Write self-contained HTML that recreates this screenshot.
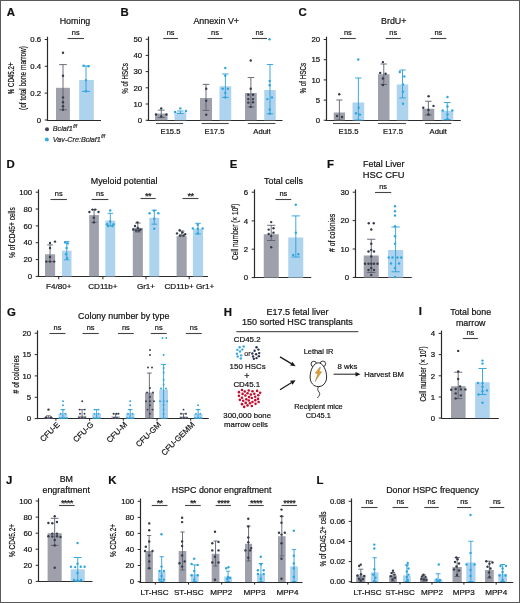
<!DOCTYPE html>
<html><head><meta charset="utf-8"><style>
html,body{margin:0;padding:0;background:#fff;width:520px;height:603px;overflow:hidden}
svg{display:block;font-family:"Liberation Sans", sans-serif;filter:blur(0.25px)}
</style></head><body>
<svg width="520" height="603" viewBox="0 0 520 603" font-family='"Liberation Sans", sans-serif'><style>text{stroke:#111;stroke-width:0.2px}</style>
<rect x="0.00" y="0.00" width="520.00" height="603.00" fill="#fff"/>
<text x="6.80" y="16.20" font-size="11.4" text-anchor="start" font-weight="bold" font-style="normal" fill="#111" >A</text>
<text x="75.00" y="23.90" font-size="8.9" text-anchor="middle" font-weight="normal" font-style="normal" fill="#111" >Homing</text>
<line x1="47.50" y1="36.70" x2="47.50" y2="120.50" stroke="#2a2a2a" stroke-width="1.2" />
<line x1="44.70" y1="39.50" x2="47.50" y2="39.50" stroke="#2a2a2a" stroke-width="1.0" />
<text x="41.20" y="42.20" font-size="7.8" text-anchor="end" font-weight="normal" font-style="normal" fill="#111" >0.6</text>
<line x1="44.70" y1="66.30" x2="47.50" y2="66.30" stroke="#2a2a2a" stroke-width="1.0" />
<text x="41.20" y="69.00" font-size="7.8" text-anchor="end" font-weight="normal" font-style="normal" fill="#111" >0.4</text>
<line x1="44.70" y1="93.10" x2="47.50" y2="93.10" stroke="#2a2a2a" stroke-width="1.0" />
<text x="41.20" y="95.80" font-size="7.8" text-anchor="end" font-weight="normal" font-style="normal" fill="#111" >0.2</text>
<line x1="44.70" y1="120.00" x2="47.50" y2="120.00" stroke="#2a2a2a" stroke-width="1.0" />
<text x="41.20" y="122.70" font-size="7.8" text-anchor="end" font-weight="normal" font-style="normal" fill="#111" >0</text>
<line x1="46.90" y1="120.50" x2="101.00" y2="120.50" stroke="#2a2a2a" stroke-width="1.2" />
<rect x="56.00" y="87.80" width="13.90" height="32.20" fill="#9ea0ab"/>
<line x1="63.00" y1="64.60" x2="63.00" y2="109.80" stroke="#5c616c" stroke-width="0.9" />
<line x1="59.18" y1="64.60" x2="66.82" y2="64.60" stroke="#5c616c" stroke-width="0.9" />
<line x1="59.18" y1="109.80" x2="66.82" y2="109.80" stroke="#5c616c" stroke-width="0.9" />
<circle cx="63.00" cy="52.70" r="1.2" fill="#353b48"/>
<circle cx="63.00" cy="75.80" r="1.2" fill="#353b48"/>
<circle cx="63.00" cy="97.40" r="1.2" fill="#353b48"/>
<circle cx="63.00" cy="102.30" r="1.2" fill="#353b48"/>
<circle cx="63.00" cy="106.30" r="1.2" fill="#353b48"/>
<circle cx="63.00" cy="109.80" r="1.2" fill="#353b48"/>
<rect x="79.20" y="80.00" width="14.60" height="40.00" fill="#aed3ef"/>
<line x1="86.00" y1="66.00" x2="86.00" y2="91.40" stroke="#2a9fd8" stroke-width="0.9" />
<line x1="81.98" y1="66.00" x2="90.02" y2="66.00" stroke="#2a9fd8" stroke-width="0.9" />
<line x1="81.98" y1="91.40" x2="90.02" y2="91.40" stroke="#2a9fd8" stroke-width="0.9" />
<circle cx="83.80" cy="65.60" r="1.2" fill="#2ea6dd"/>
<circle cx="88.50" cy="66.20" r="1.2" fill="#2ea6dd"/>
<circle cx="86.00" cy="80.10" r="1.2" fill="#2ea6dd"/>
<circle cx="86.00" cy="91.20" r="1.2" fill="#2ea6dd"/>
<line x1="67.50" y1="38.50" x2="84.00" y2="38.50" stroke="#444" stroke-width="1.1" />
<text x="75.75" y="35.40" font-size="7.4" text-anchor="middle" font-weight="normal" font-style="normal" fill="#111" >ns</text>
<g transform="translate(13.90,78.40) rotate(-90)"><text x="0" y="0" font-size="8.6" text-anchor="middle" textLength="31.80" lengthAdjust="spacingAndGlyphs" fill="#111" stroke="#111" stroke-width="0.22">% CD45.2+</text></g>
<g transform="translate(25.70,78.00) rotate(-90)"><text x="0" y="0" font-size="8.4" text-anchor="middle" textLength="64.00" lengthAdjust="spacingAndGlyphs" fill="#111" stroke="#111" stroke-width="0.22">(of total bone marrow)</text></g>
<circle cx="47.00" cy="129.20" r="2.0" fill="#3d4350"/>
<text x="52.80" y="131.30" font-size="7.2" text-anchor="start" font-weight="normal" font-style="italic" fill="#3a3a3a" >Bclaf1<tspan font-size="4.6" dy="-3.2" dx="0.4">f/f</tspan></text>
<circle cx="46.80" cy="139.60" r="2.0" fill="#34aee0"/>
<text x="52.80" y="141.60" font-size="7.2" text-anchor="start" font-weight="normal" font-style="italic" fill="#3a3a3a" >Vav-Cre:Bclaf1<tspan font-size="4.6" dy="-3.2" dx="0.4">f/f</tspan></text>
<text x="120.50" y="16.20" font-size="11.4" text-anchor="start" font-weight="bold" font-style="normal" fill="#111" >B</text>
<text x="216.20" y="23.90" font-size="8.9" text-anchor="middle" font-weight="normal" font-style="normal" fill="#111" >Annexin V+</text>
<line x1="148.50" y1="36.45" x2="148.50" y2="120.75" stroke="#2a2a2a" stroke-width="1.2" />
<line x1="145.70" y1="39.25" x2="148.50" y2="39.25" stroke="#2a2a2a" stroke-width="1.0" />
<text x="142.20" y="41.95" font-size="7.8" text-anchor="end" font-weight="normal" font-style="normal" fill="#111" >50</text>
<line x1="145.70" y1="55.40" x2="148.50" y2="55.40" stroke="#2a2a2a" stroke-width="1.0" />
<text x="142.20" y="58.10" font-size="7.8" text-anchor="end" font-weight="normal" font-style="normal" fill="#111" >40</text>
<line x1="145.70" y1="71.60" x2="148.50" y2="71.60" stroke="#2a2a2a" stroke-width="1.0" />
<text x="142.20" y="74.30" font-size="7.8" text-anchor="end" font-weight="normal" font-style="normal" fill="#111" >30</text>
<line x1="145.70" y1="87.80" x2="148.50" y2="87.80" stroke="#2a2a2a" stroke-width="1.0" />
<text x="142.20" y="90.50" font-size="7.8" text-anchor="end" font-weight="normal" font-style="normal" fill="#111" >20</text>
<line x1="145.70" y1="104.00" x2="148.50" y2="104.00" stroke="#2a2a2a" stroke-width="1.0" />
<text x="142.20" y="106.70" font-size="7.8" text-anchor="end" font-weight="normal" font-style="normal" fill="#111" >10</text>
<line x1="145.70" y1="120.25" x2="148.50" y2="120.25" stroke="#2a2a2a" stroke-width="1.0" />
<text x="142.20" y="122.95" font-size="7.8" text-anchor="end" font-weight="normal" font-style="normal" fill="#111" >0</text>
<line x1="147.40" y1="120.50" x2="282.50" y2="120.50" stroke="#2a2a2a" stroke-width="1.2" />
<rect x="155.00" y="113.60" width="12.50" height="6.65" fill="#9ea0ab"/>
<line x1="161.25" y1="110.10" x2="161.25" y2="117.50" stroke="#5c616c" stroke-width="0.9" />
<line x1="157.81" y1="110.10" x2="164.69" y2="110.10" stroke="#5c616c" stroke-width="0.9" />
<line x1="157.81" y1="117.50" x2="164.69" y2="117.50" stroke="#5c616c" stroke-width="0.9" />
<circle cx="161.20" cy="108.40" r="1.2" fill="#353b48"/>
<circle cx="156.00" cy="114.50" r="1.2" fill="#353b48"/>
<circle cx="166.40" cy="114.50" r="1.2" fill="#353b48"/>
<circle cx="161.20" cy="116.50" r="1.2" fill="#353b48"/>
<rect x="174.50" y="112.30" width="11.75" height="7.95" fill="#aed3ef"/>
<line x1="180.38" y1="111.00" x2="180.38" y2="113.50" stroke="#2a9fd8" stroke-width="0.9" />
<line x1="177.14" y1="111.00" x2="183.61" y2="111.00" stroke="#2a9fd8" stroke-width="0.9" />
<line x1="177.14" y1="113.50" x2="183.61" y2="113.50" stroke="#2a9fd8" stroke-width="0.9" />
<circle cx="180.30" cy="108.40" r="1.2" fill="#2ea6dd"/>
<circle cx="175.10" cy="111.90" r="1.2" fill="#2ea6dd"/>
<circle cx="185.90" cy="111.00" r="1.2" fill="#2ea6dd"/>
<rect x="200.00" y="98.00" width="12.00" height="22.25" fill="#9ea0ab"/>
<line x1="206.00" y1="84.40" x2="206.00" y2="110.40" stroke="#5c616c" stroke-width="0.9" />
<line x1="202.70" y1="84.40" x2="209.30" y2="84.40" stroke="#5c616c" stroke-width="0.9" />
<line x1="202.70" y1="110.40" x2="209.30" y2="110.40" stroke="#5c616c" stroke-width="0.9" />
<circle cx="206.20" cy="88.70" r="1.2" fill="#353b48"/>
<circle cx="206.20" cy="100.80" r="1.2" fill="#353b48"/>
<circle cx="206.20" cy="114.70" r="1.2" fill="#353b48"/>
<rect x="219.50" y="86.25" width="11.75" height="34.00" fill="#aed3ef"/>
<line x1="225.38" y1="74.00" x2="225.38" y2="97.40" stroke="#2a9fd8" stroke-width="0.9" />
<line x1="222.14" y1="74.00" x2="228.61" y2="74.00" stroke="#2a9fd8" stroke-width="0.9" />
<line x1="222.14" y1="97.40" x2="228.61" y2="97.40" stroke="#2a9fd8" stroke-width="0.9" />
<circle cx="225.30" cy="68.00" r="1.2" fill="#2ea6dd"/>
<circle cx="225.30" cy="75.80" r="1.2" fill="#2ea6dd"/>
<circle cx="222.70" cy="88.70" r="1.2" fill="#2ea6dd"/>
<circle cx="227.90" cy="88.70" r="1.2" fill="#2ea6dd"/>
<circle cx="225.30" cy="93.00" r="1.2" fill="#2ea6dd"/>
<circle cx="225.30" cy="97.40" r="1.2" fill="#2ea6dd"/>
<rect x="245.00" y="93.00" width="11.75" height="27.25" fill="#9ea0ab"/>
<line x1="250.88" y1="77.50" x2="250.88" y2="106.90" stroke="#5c616c" stroke-width="0.9" />
<line x1="247.64" y1="77.50" x2="254.11" y2="77.50" stroke="#5c616c" stroke-width="0.9" />
<line x1="247.64" y1="106.90" x2="254.11" y2="106.90" stroke="#5c616c" stroke-width="0.9" />
<circle cx="250.75" cy="60.50" r="1.2" fill="#353b48"/>
<circle cx="250.70" cy="88.70" r="1.2" fill="#353b48"/>
<circle cx="248.30" cy="94.80" r="1.2" fill="#353b48"/>
<circle cx="253.00" cy="94.80" r="1.2" fill="#353b48"/>
<circle cx="248.30" cy="99.10" r="1.2" fill="#353b48"/>
<circle cx="253.00" cy="99.10" r="1.2" fill="#353b48"/>
<circle cx="248.30" cy="102.60" r="1.2" fill="#353b48"/>
<circle cx="253.00" cy="102.20" r="1.2" fill="#353b48"/>
<circle cx="250.70" cy="106.90" r="1.2" fill="#353b48"/>
<rect x="264.25" y="90.00" width="11.50" height="30.25" fill="#aed3ef"/>
<line x1="270.00" y1="64.50" x2="270.00" y2="113.80" stroke="#2a9fd8" stroke-width="0.9" />
<line x1="266.84" y1="64.50" x2="273.16" y2="64.50" stroke="#2a9fd8" stroke-width="0.9" />
<line x1="266.84" y1="113.80" x2="273.16" y2="113.80" stroke="#2a9fd8" stroke-width="0.9" />
<circle cx="269.50" cy="39.25" r="1.2" fill="#2ea6dd"/>
<circle cx="269.70" cy="81.00" r="1.2" fill="#2ea6dd"/>
<circle cx="269.70" cy="85.30" r="1.2" fill="#2ea6dd"/>
<circle cx="267.30" cy="99.10" r="1.2" fill="#2ea6dd"/>
<circle cx="272.00" cy="97.40" r="1.2" fill="#2ea6dd"/>
<circle cx="269.70" cy="109.50" r="1.2" fill="#2ea6dd"/>
<circle cx="269.70" cy="113.80" r="1.2" fill="#2ea6dd"/>
<line x1="163.25" y1="38.50" x2="178.00" y2="38.50" stroke="#444" stroke-width="1.1" />
<text x="170.62" y="35.40" font-size="7.4" text-anchor="middle" font-weight="normal" font-style="normal" fill="#111" >ns</text>
<line x1="207.50" y1="38.50" x2="222.50" y2="38.50" stroke="#444" stroke-width="1.1" />
<text x="215.00" y="35.40" font-size="7.4" text-anchor="middle" font-weight="normal" font-style="normal" fill="#111" >ns</text>
<line x1="252.00" y1="38.50" x2="267.00" y2="38.50" stroke="#444" stroke-width="1.1" />
<text x="259.50" y="35.40" font-size="7.4" text-anchor="middle" font-weight="normal" font-style="normal" fill="#111" >ns</text>
<line x1="156.00" y1="123.50" x2="183.20" y2="123.50" stroke="#4a4a4a" stroke-width="1.1" />
<line x1="201.60" y1="123.50" x2="228.70" y2="123.50" stroke="#4a4a4a" stroke-width="1.1" />
<line x1="247.80" y1="123.50" x2="275.40" y2="123.50" stroke="#4a4a4a" stroke-width="1.1" />
<text x="170.50" y="134.00" font-size="7.6" text-anchor="middle" font-weight="normal" font-style="normal" fill="#111" >E15.5</text>
<text x="214.50" y="134.00" font-size="7.6" text-anchor="middle" font-weight="normal" font-style="normal" fill="#111" >E17.5</text>
<text x="262.00" y="134.00" font-size="7.6" text-anchor="middle" font-weight="normal" font-style="normal" fill="#111" >Adult</text>
<g transform="translate(128.20,78.50) rotate(-90)"><text x="0" y="0" font-size="8.6" text-anchor="middle" textLength="30.60" lengthAdjust="spacingAndGlyphs" fill="#111" stroke="#111" stroke-width="0.22">% of HSCs</text></g>
<text x="298.50" y="16.20" font-size="11.4" text-anchor="start" font-weight="bold" font-style="normal" fill="#111" >C</text>
<text x="393.75" y="23.90" font-size="8.9" text-anchor="middle" font-weight="normal" font-style="normal" fill="#111" >BrdU+</text>
<line x1="326.50" y1="36.70" x2="326.50" y2="120.75" stroke="#2a2a2a" stroke-width="1.2" />
<line x1="323.70" y1="39.50" x2="326.50" y2="39.50" stroke="#2a2a2a" stroke-width="1.0" />
<text x="320.20" y="42.20" font-size="7.8" text-anchor="end" font-weight="normal" font-style="normal" fill="#111" >20</text>
<line x1="323.70" y1="59.70" x2="326.50" y2="59.70" stroke="#2a2a2a" stroke-width="1.0" />
<text x="320.20" y="62.40" font-size="7.8" text-anchor="end" font-weight="normal" font-style="normal" fill="#111" >15</text>
<line x1="323.70" y1="79.90" x2="326.50" y2="79.90" stroke="#2a2a2a" stroke-width="1.0" />
<text x="320.20" y="82.60" font-size="7.8" text-anchor="end" font-weight="normal" font-style="normal" fill="#111" >10</text>
<line x1="323.70" y1="100.10" x2="326.50" y2="100.10" stroke="#2a2a2a" stroke-width="1.0" />
<text x="320.20" y="102.80" font-size="7.8" text-anchor="end" font-weight="normal" font-style="normal" fill="#111" >5</text>
<line x1="323.70" y1="120.25" x2="326.50" y2="120.25" stroke="#2a2a2a" stroke-width="1.0" />
<text x="320.20" y="122.95" font-size="7.8" text-anchor="end" font-weight="normal" font-style="normal" fill="#111" >0</text>
<line x1="325.65" y1="120.50" x2="460.75" y2="120.50" stroke="#2a2a2a" stroke-width="1.2" />
<rect x="333.75" y="112.50" width="11.25" height="7.75" fill="#9ea0ab"/>
<line x1="339.38" y1="100.00" x2="339.38" y2="120.00" stroke="#5c616c" stroke-width="0.9" />
<line x1="336.28" y1="100.00" x2="342.47" y2="100.00" stroke="#5c616c" stroke-width="0.9" />
<line x1="336.28" y1="120.00" x2="342.47" y2="120.00" stroke="#5c616c" stroke-width="0.9" />
<circle cx="339.25" cy="94.25" r="1.2" fill="#353b48"/>
<circle cx="337.00" cy="116.00" r="1.2" fill="#353b48"/>
<circle cx="342.00" cy="117.00" r="1.2" fill="#353b48"/>
<rect x="352.50" y="102.50" width="11.75" height="17.75" fill="#aed3ef"/>
<line x1="358.38" y1="78.00" x2="358.38" y2="120.00" stroke="#2a9fd8" stroke-width="0.9" />
<line x1="355.14" y1="78.00" x2="361.61" y2="78.00" stroke="#2a9fd8" stroke-width="0.9" />
<line x1="355.14" y1="120.00" x2="361.61" y2="120.00" stroke="#2a9fd8" stroke-width="0.9" />
<circle cx="358.25" cy="59.50" r="1.2" fill="#2ea6dd"/>
<circle cx="358.70" cy="107.80" r="1.2" fill="#2ea6dd"/>
<circle cx="356.00" cy="113.20" r="1.2" fill="#2ea6dd"/>
<circle cx="360.00" cy="114.60" r="1.2" fill="#2ea6dd"/>
<rect x="378.00" y="74.25" width="11.50" height="46.00" fill="#9ea0ab"/>
<line x1="383.75" y1="64.00" x2="383.75" y2="84.50" stroke="#5c616c" stroke-width="0.9" />
<line x1="380.59" y1="64.00" x2="386.91" y2="64.00" stroke="#5c616c" stroke-width="0.9" />
<line x1="380.59" y1="84.50" x2="386.91" y2="84.50" stroke="#5c616c" stroke-width="0.9" />
<circle cx="382.90" cy="62.10" r="1.2" fill="#353b48"/>
<circle cx="380.20" cy="72.90" r="1.2" fill="#353b48"/>
<circle cx="385.60" cy="73.70" r="1.2" fill="#353b48"/>
<circle cx="382.90" cy="78.50" r="1.2" fill="#353b48"/>
<circle cx="382.90" cy="85.00" r="1.2" fill="#353b48"/>
<rect x="396.75" y="84.50" width="11.50" height="35.75" fill="#aed3ef"/>
<line x1="402.50" y1="70.00" x2="402.50" y2="97.90" stroke="#2a9fd8" stroke-width="0.9" />
<line x1="399.34" y1="70.00" x2="405.66" y2="70.00" stroke="#2a9fd8" stroke-width="0.9" />
<line x1="399.34" y1="97.90" x2="405.66" y2="97.90" stroke="#2a9fd8" stroke-width="0.9" />
<circle cx="399.80" cy="72.00" r="1.2" fill="#2ea6dd"/>
<circle cx="404.40" cy="76.40" r="1.2" fill="#2ea6dd"/>
<circle cx="403.00" cy="84.50" r="1.2" fill="#2ea6dd"/>
<circle cx="403.00" cy="91.70" r="1.2" fill="#2ea6dd"/>
<circle cx="403.00" cy="103.80" r="1.2" fill="#2ea6dd"/>
<rect x="422.50" y="108.75" width="11.75" height="11.50" fill="#9ea0ab"/>
<line x1="428.38" y1="101.25" x2="428.38" y2="115.00" stroke="#5c616c" stroke-width="0.9" />
<line x1="425.14" y1="101.25" x2="431.61" y2="101.25" stroke="#5c616c" stroke-width="0.9" />
<line x1="425.14" y1="115.00" x2="431.61" y2="115.00" stroke="#5c616c" stroke-width="0.9" />
<circle cx="428.60" cy="96.20" r="1.2" fill="#353b48"/>
<circle cx="423.30" cy="107.80" r="1.2" fill="#353b48"/>
<circle cx="433.50" cy="105.90" r="1.2" fill="#353b48"/>
<circle cx="428.40" cy="110.00" r="1.2" fill="#353b48"/>
<circle cx="428.40" cy="114.50" r="1.2" fill="#353b48"/>
<rect x="441.25" y="110.75" width="12.00" height="9.50" fill="#aed3ef"/>
<line x1="447.25" y1="102.50" x2="447.25" y2="119.50" stroke="#2a9fd8" stroke-width="0.9" />
<line x1="443.95" y1="102.50" x2="450.55" y2="102.50" stroke="#2a9fd8" stroke-width="0.9" />
<line x1="443.95" y1="119.50" x2="450.55" y2="119.50" stroke="#2a9fd8" stroke-width="0.9" />
<circle cx="447.50" cy="97.00" r="1.2" fill="#2ea6dd"/>
<circle cx="442.70" cy="110.50" r="1.2" fill="#2ea6dd"/>
<circle cx="452.30" cy="110.50" r="1.2" fill="#2ea6dd"/>
<circle cx="447.50" cy="106.50" r="1.2" fill="#2ea6dd"/>
<circle cx="447.50" cy="114.50" r="1.2" fill="#2ea6dd"/>
<circle cx="447.50" cy="119.00" r="1.2" fill="#2ea6dd"/>
<line x1="340.00" y1="38.50" x2="355.75" y2="38.50" stroke="#444" stroke-width="1.1" />
<text x="347.88" y="35.40" font-size="7.4" text-anchor="middle" font-weight="normal" font-style="normal" fill="#111" >ns</text>
<line x1="385.75" y1="38.50" x2="400.75" y2="38.50" stroke="#444" stroke-width="1.1" />
<text x="393.25" y="35.40" font-size="7.4" text-anchor="middle" font-weight="normal" font-style="normal" fill="#111" >ns</text>
<line x1="430.50" y1="38.50" x2="446.25" y2="38.50" stroke="#444" stroke-width="1.1" />
<text x="438.38" y="35.40" font-size="7.4" text-anchor="middle" font-weight="normal" font-style="normal" fill="#111" >ns</text>
<line x1="333.00" y1="123.50" x2="360.00" y2="123.50" stroke="#4a4a4a" stroke-width="1.1" />
<line x1="378.00" y1="123.50" x2="406.00" y2="123.50" stroke="#4a4a4a" stroke-width="1.1" />
<line x1="425.00" y1="123.50" x2="451.25" y2="123.50" stroke="#4a4a4a" stroke-width="1.1" />
<text x="348.50" y="134.00" font-size="7.6" text-anchor="middle" font-weight="normal" font-style="normal" fill="#111" >E15.5</text>
<text x="393.00" y="134.00" font-size="7.6" text-anchor="middle" font-weight="normal" font-style="normal" fill="#111" >E17.5</text>
<text x="438.25" y="134.00" font-size="7.6" text-anchor="middle" font-weight="normal" font-style="normal" fill="#111" >Adult</text>
<g transform="translate(306.20,78.20) rotate(-90)"><text x="0" y="0" font-size="8.6" text-anchor="middle" textLength="30.80" lengthAdjust="spacingAndGlyphs" fill="#111" stroke="#111" stroke-width="0.22">% of HSCs</text></g>
<text x="6.60" y="168.20" font-size="11.4" text-anchor="start" font-weight="bold" font-style="normal" fill="#111" >D</text>
<text x="124.10" y="184.20" font-size="8.9" text-anchor="middle" font-weight="normal" font-style="normal" fill="#111" >Myeloid potential</text>
<line x1="38.50" y1="189.40" x2="38.50" y2="276.90" stroke="#2a2a2a" stroke-width="1.2" />
<line x1="35.70" y1="192.20" x2="38.50" y2="192.20" stroke="#2a2a2a" stroke-width="1.0" />
<text x="32.20" y="194.90" font-size="7.8" text-anchor="end" font-weight="normal" font-style="normal" fill="#111" >100</text>
<line x1="35.70" y1="209.00" x2="38.50" y2="209.00" stroke="#2a2a2a" stroke-width="1.0" />
<text x="32.20" y="211.70" font-size="7.8" text-anchor="end" font-weight="normal" font-style="normal" fill="#111" >80</text>
<line x1="35.70" y1="225.90" x2="38.50" y2="225.90" stroke="#2a2a2a" stroke-width="1.0" />
<text x="32.20" y="228.60" font-size="7.8" text-anchor="end" font-weight="normal" font-style="normal" fill="#111" >60</text>
<line x1="35.70" y1="242.70" x2="38.50" y2="242.70" stroke="#2a2a2a" stroke-width="1.0" />
<text x="32.20" y="245.40" font-size="7.8" text-anchor="end" font-weight="normal" font-style="normal" fill="#111" >40</text>
<line x1="35.70" y1="259.60" x2="38.50" y2="259.60" stroke="#2a2a2a" stroke-width="1.0" />
<text x="32.20" y="262.30" font-size="7.8" text-anchor="end" font-weight="normal" font-style="normal" fill="#111" >20</text>
<line x1="35.70" y1="276.40" x2="38.50" y2="276.40" stroke="#2a2a2a" stroke-width="1.0" />
<text x="32.20" y="279.10" font-size="7.8" text-anchor="end" font-weight="normal" font-style="normal" fill="#111" >0</text>
<line x1="38.20" y1="276.50" x2="208.00" y2="276.50" stroke="#2a2a2a" stroke-width="1.2" />
<line x1="58.70" y1="276.40" x2="58.70" y2="279.30" stroke="#2a2a2a" stroke-width="1.0" />
<line x1="102.90" y1="276.40" x2="102.90" y2="279.30" stroke="#2a2a2a" stroke-width="1.0" />
<line x1="146.00" y1="276.40" x2="146.00" y2="279.30" stroke="#2a2a2a" stroke-width="1.0" />
<line x1="189.20" y1="276.40" x2="189.20" y2="279.30" stroke="#2a2a2a" stroke-width="1.0" />
<rect x="45.00" y="254.30" width="10.10" height="22.10" fill="#9ea0ab"/>
<line x1="50.05" y1="244.90" x2="50.05" y2="261.60" stroke="#5c616c" stroke-width="0.9" />
<line x1="47.27" y1="244.90" x2="52.83" y2="244.90" stroke="#5c616c" stroke-width="0.9" />
<line x1="47.27" y1="261.60" x2="52.83" y2="261.60" stroke="#5c616c" stroke-width="0.9" />
<circle cx="50.00" cy="243.00" r="1.2" fill="#353b48"/>
<circle cx="55.00" cy="241.60" r="1.2" fill="#353b48"/>
<circle cx="50.00" cy="248.00" r="1.2" fill="#353b48"/>
<circle cx="46.30" cy="261.60" r="1.2" fill="#353b48"/>
<circle cx="50.00" cy="261.60" r="1.2" fill="#353b48"/>
<circle cx="54.20" cy="261.60" r="1.2" fill="#353b48"/>
<circle cx="50.00" cy="257.00" r="1.2" fill="#353b48"/>
<rect x="62.00" y="250.70" width="9.50" height="25.70" fill="#aed3ef"/>
<line x1="66.75" y1="241.60" x2="66.75" y2="259.80" stroke="#2a9fd8" stroke-width="0.9" />
<line x1="64.14" y1="241.60" x2="69.36" y2="241.60" stroke="#2a9fd8" stroke-width="0.9" />
<line x1="64.14" y1="259.80" x2="69.36" y2="259.80" stroke="#2a9fd8" stroke-width="0.9" />
<circle cx="65.10" cy="242.50" r="1.2" fill="#2ea6dd"/>
<circle cx="67.80" cy="243.40" r="1.2" fill="#2ea6dd"/>
<circle cx="66.60" cy="248.00" r="1.2" fill="#2ea6dd"/>
<circle cx="66.00" cy="254.30" r="1.2" fill="#2ea6dd"/>
<circle cx="67.00" cy="258.00" r="1.2" fill="#2ea6dd"/>
<rect x="89.20" y="215.10" width="9.70" height="61.30" fill="#9ea0ab"/>
<line x1="94.05" y1="209.60" x2="94.05" y2="222.40" stroke="#5c616c" stroke-width="0.9" />
<line x1="91.38" y1="209.60" x2="96.72" y2="209.60" stroke="#5c616c" stroke-width="0.9" />
<line x1="91.38" y1="222.40" x2="96.72" y2="222.40" stroke="#5c616c" stroke-width="0.9" />
<circle cx="89.40" cy="212.00" r="1.2" fill="#353b48"/>
<circle cx="92.50" cy="209.60" r="1.2" fill="#353b48"/>
<circle cx="95.20" cy="209.60" r="1.2" fill="#353b48"/>
<circle cx="98.50" cy="212.00" r="1.2" fill="#353b48"/>
<circle cx="93.80" cy="217.80" r="1.2" fill="#353b48"/>
<circle cx="93.80" cy="222.40" r="1.2" fill="#353b48"/>
<rect x="105.30" y="220.60" width="10.00" height="55.80" fill="#aed3ef"/>
<line x1="110.30" y1="213.30" x2="110.30" y2="226.00" stroke="#2a9fd8" stroke-width="0.9" />
<line x1="107.55" y1="213.30" x2="113.05" y2="213.30" stroke="#2a9fd8" stroke-width="0.9" />
<line x1="107.55" y1="226.00" x2="113.05" y2="226.00" stroke="#2a9fd8" stroke-width="0.9" />
<circle cx="110.20" cy="210.50" r="1.2" fill="#2ea6dd"/>
<circle cx="107.10" cy="224.20" r="1.2" fill="#2ea6dd"/>
<circle cx="113.50" cy="224.20" r="1.2" fill="#2ea6dd"/>
<circle cx="110.20" cy="221.50" r="1.2" fill="#2ea6dd"/>
<circle cx="108.00" cy="226.00" r="1.2" fill="#2ea6dd"/>
<circle cx="112.60" cy="226.00" r="1.2" fill="#2ea6dd"/>
<rect x="132.80" y="227.90" width="10.10" height="48.50" fill="#9ea0ab"/>
<line x1="137.85" y1="223.00" x2="137.85" y2="232.00" stroke="#5c616c" stroke-width="0.9" />
<line x1="135.07" y1="223.00" x2="140.63" y2="223.00" stroke="#5c616c" stroke-width="0.9" />
<line x1="135.07" y1="232.00" x2="140.63" y2="232.00" stroke="#5c616c" stroke-width="0.9" />
<circle cx="137.40" cy="222.40" r="1.2" fill="#353b48"/>
<circle cx="135.00" cy="226.00" r="1.2" fill="#353b48"/>
<circle cx="137.80" cy="228.00" r="1.2" fill="#353b48"/>
<circle cx="140.50" cy="229.50" r="1.2" fill="#353b48"/>
<circle cx="133.20" cy="229.50" r="1.2" fill="#353b48"/>
<circle cx="136.00" cy="230.50" r="1.2" fill="#353b48"/>
<circle cx="139.00" cy="230.50" r="1.2" fill="#353b48"/>
<rect x="149.30" y="217.80" width="10.00" height="58.60" fill="#aed3ef"/>
<line x1="154.30" y1="210.20" x2="154.30" y2="224.20" stroke="#2a9fd8" stroke-width="0.9" />
<line x1="151.55" y1="210.20" x2="157.05" y2="210.20" stroke="#2a9fd8" stroke-width="0.9" />
<line x1="151.55" y1="224.20" x2="157.05" y2="224.20" stroke="#2a9fd8" stroke-width="0.9" />
<circle cx="149.60" cy="213.30" r="1.2" fill="#2ea6dd"/>
<circle cx="158.40" cy="213.30" r="1.2" fill="#2ea6dd"/>
<circle cx="154.20" cy="218.80" r="1.2" fill="#2ea6dd"/>
<circle cx="154.20" cy="228.80" r="1.2" fill="#2ea6dd"/>
<circle cx="154.20" cy="210.80" r="1.2" fill="#2ea6dd"/>
<rect x="176.60" y="236.10" width="10.10" height="40.30" fill="#9ea0ab"/>
<line x1="181.65" y1="231.00" x2="181.65" y2="236.00" stroke="#5c616c" stroke-width="0.9" />
<line x1="178.87" y1="231.00" x2="184.43" y2="231.00" stroke="#5c616c" stroke-width="0.9" />
<line x1="178.87" y1="236.00" x2="184.43" y2="236.00" stroke="#5c616c" stroke-width="0.9" />
<circle cx="179.70" cy="230.30" r="1.2" fill="#353b48"/>
<circle cx="177.00" cy="233.40" r="1.2" fill="#353b48"/>
<circle cx="185.20" cy="234.30" r="1.2" fill="#353b48"/>
<circle cx="182.50" cy="232.50" r="1.2" fill="#353b48"/>
<circle cx="180.00" cy="235.50" r="1.2" fill="#353b48"/>
<circle cx="183.50" cy="235.50" r="1.2" fill="#353b48"/>
<rect x="192.90" y="228.80" width="10.20" height="47.60" fill="#aed3ef"/>
<line x1="198.00" y1="223.30" x2="198.00" y2="233.90" stroke="#2a9fd8" stroke-width="0.9" />
<line x1="195.19" y1="223.30" x2="200.81" y2="223.30" stroke="#2a9fd8" stroke-width="0.9" />
<line x1="195.19" y1="233.90" x2="200.81" y2="233.90" stroke="#2a9fd8" stroke-width="0.9" />
<circle cx="192.90" cy="228.40" r="1.2" fill="#2ea6dd"/>
<circle cx="202.60" cy="228.40" r="1.2" fill="#2ea6dd"/>
<circle cx="197.80" cy="224.80" r="1.2" fill="#2ea6dd"/>
<circle cx="197.80" cy="233.40" r="1.2" fill="#2ea6dd"/>
<circle cx="197.80" cy="228.80" r="1.2" fill="#2ea6dd"/>
<line x1="50.50" y1="199.50" x2="66.90" y2="199.50" stroke="#444" stroke-width="1.1" />
<text x="58.70" y="196.40" font-size="7.4" text-anchor="middle" font-weight="normal" font-style="normal" fill="#111" >ns</text>
<line x1="91.60" y1="199.50" x2="108.40" y2="199.50" stroke="#444" stroke-width="1.1" />
<text x="100.00" y="196.40" font-size="7.4" text-anchor="middle" font-weight="normal" font-style="normal" fill="#111" >ns</text>
<line x1="140.50" y1="198.50" x2="155.70" y2="198.50" stroke="#444" stroke-width="1.1" />
<text x="148.10" y="199.00" font-size="9.2" text-anchor="middle" font-weight="normal" font-style="normal" fill="#111" letter-spacing="-0.6">**</text>
<line x1="182.50" y1="198.50" x2="198.40" y2="198.50" stroke="#444" stroke-width="1.1" />
<text x="190.45" y="199.00" font-size="9.2" text-anchor="middle" font-weight="normal" font-style="normal" fill="#111" letter-spacing="-0.6">**</text>
<text x="58.70" y="289.00" font-size="8.1" text-anchor="middle" font-weight="normal" font-style="normal" fill="#111" >F4/80+</text>
<text x="102.90" y="289.00" font-size="8.1" text-anchor="middle" font-weight="normal" font-style="normal" fill="#111" >CD11b+</text>
<text x="146.00" y="289.00" font-size="8.1" text-anchor="middle" font-weight="normal" font-style="normal" fill="#111" >Gr1+</text>
<text x="189.40" y="289.00" font-size="8.1" text-anchor="middle" font-weight="normal" font-style="normal" fill="#111" >CD11b+ Gr1+</text>
<g transform="translate(14.90,232.55) rotate(-90)"><text x="0" y="0" font-size="8.6" text-anchor="middle" textLength="50.70" lengthAdjust="spacingAndGlyphs" fill="#111" stroke="#111" stroke-width="0.22">% of CD45+ cells</text></g>
<text x="229.80" y="168.20" font-size="11.4" text-anchor="start" font-weight="bold" font-style="normal" fill="#111" >E</text>
<text x="283.50" y="184.00" font-size="8.9" text-anchor="middle" font-weight="normal" font-style="normal" fill="#111" >Total cells</text>
<line x1="254.50" y1="189.40" x2="254.50" y2="278.10" stroke="#2a2a2a" stroke-width="1.2" />
<line x1="251.70" y1="192.20" x2="254.50" y2="192.20" stroke="#2a2a2a" stroke-width="1.0" />
<text x="248.20" y="194.90" font-size="7.8" text-anchor="end" font-weight="normal" font-style="normal" fill="#111" >6</text>
<line x1="251.70" y1="220.90" x2="254.50" y2="220.90" stroke="#2a2a2a" stroke-width="1.0" />
<text x="248.20" y="223.60" font-size="7.8" text-anchor="end" font-weight="normal" font-style="normal" fill="#111" >4</text>
<line x1="251.70" y1="249.20" x2="254.50" y2="249.20" stroke="#2a2a2a" stroke-width="1.0" />
<text x="248.20" y="251.90" font-size="7.8" text-anchor="end" font-weight="normal" font-style="normal" fill="#111" >2</text>
<line x1="251.70" y1="277.60" x2="254.50" y2="277.60" stroke="#2a2a2a" stroke-width="1.0" />
<text x="248.20" y="280.30" font-size="7.8" text-anchor="end" font-weight="normal" font-style="normal" fill="#111" >0</text>
<line x1="253.70" y1="277.50" x2="311.25" y2="277.50" stroke="#2a2a2a" stroke-width="1.2" />
<rect x="263.75" y="234.25" width="15.00" height="43.35" fill="#9ea0ab"/>
<line x1="271.20" y1="225.30" x2="271.20" y2="240.50" stroke="#5c616c" stroke-width="0.9" />
<line x1="267.07" y1="225.30" x2="275.32" y2="225.30" stroke="#5c616c" stroke-width="0.9" />
<line x1="267.07" y1="240.50" x2="275.32" y2="240.50" stroke="#5c616c" stroke-width="0.9" />
<circle cx="271.20" cy="222.10" r="1.2" fill="#353b48"/>
<circle cx="268.70" cy="229.60" r="1.2" fill="#353b48"/>
<circle cx="273.50" cy="228.20" r="1.2" fill="#353b48"/>
<circle cx="268.70" cy="234.00" r="1.2" fill="#353b48"/>
<circle cx="273.50" cy="232.80" r="1.2" fill="#353b48"/>
<circle cx="271.20" cy="236.10" r="1.2" fill="#353b48"/>
<circle cx="271.20" cy="247.20" r="1.2" fill="#353b48"/>
<rect x="288.25" y="237.50" width="15.00" height="40.10" fill="#aed3ef"/>
<line x1="295.80" y1="215.90" x2="295.80" y2="257.00" stroke="#2a9fd8" stroke-width="0.9" />
<line x1="291.68" y1="215.90" x2="299.93" y2="215.90" stroke="#2a9fd8" stroke-width="0.9" />
<line x1="291.68" y1="257.00" x2="299.93" y2="257.00" stroke="#2a9fd8" stroke-width="0.9" />
<circle cx="295.80" cy="204.80" r="1.2" fill="#2ea6dd"/>
<circle cx="295.80" cy="232.80" r="1.2" fill="#2ea6dd"/>
<circle cx="293.20" cy="254.90" r="1.2" fill="#2ea6dd"/>
<circle cx="298.30" cy="254.20" r="1.2" fill="#2ea6dd"/>
<line x1="275.50" y1="199.50" x2="291.25" y2="199.50" stroke="#444" stroke-width="1.1" />
<text x="283.38" y="196.40" font-size="7.4" text-anchor="middle" font-weight="normal" font-style="normal" fill="#111" >ns</text>
<g transform="translate(237.80,231.80) rotate(-90)"><text x="0" y="0" font-size="8.6" text-anchor="middle" textLength="56.40" lengthAdjust="spacingAndGlyphs" fill="#111" stroke="#111" stroke-width="0.1">Cell number (× 10<tspan font-size="4.5" dy="-3">8</tspan><tspan dy="3">)</tspan></text></g>
<text x="327.00" y="168.20" font-size="11.4" text-anchor="start" font-weight="bold" font-style="normal" fill="#111" >F</text>
<text x="383.75" y="166.60" font-size="8.9" text-anchor="middle" font-weight="normal" font-style="normal" fill="#111" >Fetal Liver</text>
<text x="383.60" y="177.60" font-size="9.4" text-anchor="middle" font-weight="normal" font-style="normal" fill="#111" >HSC CFU</text>
<line x1="355.50" y1="189.40" x2="355.50" y2="277.90" stroke="#2a2a2a" stroke-width="1.2" />
<line x1="352.70" y1="192.20" x2="355.50" y2="192.20" stroke="#2a2a2a" stroke-width="1.0" />
<text x="349.20" y="194.90" font-size="7.8" text-anchor="end" font-weight="normal" font-style="normal" fill="#111" >30</text>
<line x1="352.70" y1="220.60" x2="355.50" y2="220.60" stroke="#2a2a2a" stroke-width="1.0" />
<text x="349.20" y="223.30" font-size="7.8" text-anchor="end" font-weight="normal" font-style="normal" fill="#111" >20</text>
<line x1="352.70" y1="249.00" x2="355.50" y2="249.00" stroke="#2a2a2a" stroke-width="1.0" />
<text x="349.20" y="251.70" font-size="7.8" text-anchor="end" font-weight="normal" font-style="normal" fill="#111" >10</text>
<line x1="352.70" y1="277.40" x2="355.50" y2="277.40" stroke="#2a2a2a" stroke-width="1.0" />
<text x="349.20" y="280.10" font-size="7.8" text-anchor="end" font-weight="normal" font-style="normal" fill="#111" >0</text>
<line x1="354.40" y1="277.50" x2="411.75" y2="277.50" stroke="#2a2a2a" stroke-width="1.2" />
<rect x="363.75" y="255.50" width="15.00" height="22.00" fill="#9ea0ab"/>
<line x1="371.25" y1="239.25" x2="371.25" y2="272.50" stroke="#5c616c" stroke-width="0.9" />
<line x1="367.12" y1="239.25" x2="375.38" y2="239.25" stroke="#5c616c" stroke-width="0.9" />
<line x1="367.12" y1="272.50" x2="375.38" y2="272.50" stroke="#5c616c" stroke-width="0.9" />
<circle cx="368.75" cy="223.25" r="1.2" fill="#353b48"/>
<circle cx="373.75" cy="223.25" r="1.2" fill="#353b48"/>
<circle cx="371.25" cy="229.50" r="1.2" fill="#353b48"/>
<circle cx="371.25" cy="243.75" r="1.2" fill="#353b48"/>
<circle cx="371.25" cy="250.00" r="1.2" fill="#353b48"/>
<circle cx="368.50" cy="251.50" r="1.2" fill="#353b48"/>
<circle cx="374.00" cy="251.50" r="1.2" fill="#353b48"/>
<circle cx="371.25" cy="256.50" r="1.2" fill="#353b48"/>
<circle cx="365.00" cy="263.75" r="1.2" fill="#353b48"/>
<circle cx="368.50" cy="263.75" r="1.2" fill="#353b48"/>
<circle cx="371.25" cy="263.75" r="1.2" fill="#353b48"/>
<circle cx="374.00" cy="263.75" r="1.2" fill="#353b48"/>
<circle cx="377.50" cy="263.75" r="1.2" fill="#353b48"/>
<circle cx="371.25" cy="268.00" r="1.2" fill="#353b48"/>
<circle cx="368.50" cy="270.00" r="1.2" fill="#353b48"/>
<circle cx="374.00" cy="270.00" r="1.2" fill="#353b48"/>
<circle cx="371.25" cy="275.00" r="1.2" fill="#353b48"/>
<rect x="388.00" y="250.00" width="15.25" height="27.50" fill="#aed3ef"/>
<line x1="395.62" y1="227.00" x2="395.62" y2="271.75" stroke="#2a9fd8" stroke-width="0.9" />
<line x1="391.43" y1="227.00" x2="399.82" y2="227.00" stroke="#2a9fd8" stroke-width="0.9" />
<line x1="391.43" y1="271.75" x2="399.82" y2="271.75" stroke="#2a9fd8" stroke-width="0.9" />
<circle cx="395.00" cy="206.25" r="1.2" fill="#2ea6dd"/>
<circle cx="395.00" cy="211.25" r="1.2" fill="#2ea6dd"/>
<circle cx="395.00" cy="215.50" r="1.2" fill="#2ea6dd"/>
<circle cx="395.00" cy="226.25" r="1.2" fill="#2ea6dd"/>
<circle cx="395.00" cy="236.25" r="1.2" fill="#2ea6dd"/>
<circle cx="395.00" cy="243.75" r="1.2" fill="#2ea6dd"/>
<circle cx="388.75" cy="257.50" r="1.2" fill="#2ea6dd"/>
<circle cx="392.50" cy="257.50" r="1.2" fill="#2ea6dd"/>
<circle cx="397.50" cy="257.50" r="1.2" fill="#2ea6dd"/>
<circle cx="401.25" cy="257.50" r="1.2" fill="#2ea6dd"/>
<circle cx="391.00" cy="263.50" r="1.2" fill="#2ea6dd"/>
<circle cx="399.00" cy="263.50" r="1.2" fill="#2ea6dd"/>
<circle cx="395.00" cy="268.00" r="1.2" fill="#2ea6dd"/>
<circle cx="395.00" cy="277.00" r="1.2" fill="#2ea6dd"/>
<line x1="375.00" y1="192.50" x2="391.25" y2="192.50" stroke="#444" stroke-width="1.1" />
<text x="383.12" y="189.40" font-size="7.4" text-anchor="middle" font-weight="normal" font-style="normal" fill="#111" >ns</text>
<g transform="translate(334.90,232.90) rotate(-90)"><text x="0" y="0" font-size="8.6" text-anchor="middle" textLength="38.00" lengthAdjust="spacingAndGlyphs" fill="#111" stroke="#111" stroke-width="0.22"># of colonies</text></g>
<text x="6.90" y="316.30" font-size="11.4" text-anchor="start" font-weight="bold" font-style="normal" fill="#111" >G</text>
<text x="123.75" y="319.30" font-size="8.9" text-anchor="middle" font-weight="normal" font-style="normal" fill="#111" >Colony number by type</text>
<line x1="37.50" y1="330.40" x2="37.50" y2="419.10" stroke="#2a2a2a" stroke-width="1.2" />
<line x1="34.70" y1="333.20" x2="37.50" y2="333.20" stroke="#2a2a2a" stroke-width="1.0" />
<text x="31.20" y="335.90" font-size="7.8" text-anchor="end" font-weight="normal" font-style="normal" fill="#111" >20</text>
<line x1="34.70" y1="354.60" x2="37.50" y2="354.60" stroke="#2a2a2a" stroke-width="1.0" />
<text x="31.20" y="357.30" font-size="7.8" text-anchor="end" font-weight="normal" font-style="normal" fill="#111" >15</text>
<line x1="34.70" y1="375.90" x2="37.50" y2="375.90" stroke="#2a2a2a" stroke-width="1.0" />
<text x="31.20" y="378.60" font-size="7.8" text-anchor="end" font-weight="normal" font-style="normal" fill="#111" >10</text>
<line x1="34.70" y1="397.30" x2="37.50" y2="397.30" stroke="#2a2a2a" stroke-width="1.0" />
<text x="31.20" y="400.00" font-size="7.8" text-anchor="end" font-weight="normal" font-style="normal" fill="#111" >5</text>
<line x1="34.70" y1="418.60" x2="37.50" y2="418.60" stroke="#2a2a2a" stroke-width="1.0" />
<text x="31.20" y="421.30" font-size="7.8" text-anchor="end" font-weight="normal" font-style="normal" fill="#111" >0</text>
<line x1="37.30" y1="418.50" x2="208.75" y2="418.50" stroke="#2a2a2a" stroke-width="1.2" />
<line x1="55.90" y1="418.25" x2="55.90" y2="420.80" stroke="#2a2a2a" stroke-width="1.0" />
<line x1="89.60" y1="418.25" x2="89.60" y2="420.80" stroke="#2a2a2a" stroke-width="1.0" />
<line x1="123.30" y1="418.25" x2="123.30" y2="420.80" stroke="#2a2a2a" stroke-width="1.0" />
<line x1="157.00" y1="418.25" x2="157.00" y2="420.80" stroke="#2a2a2a" stroke-width="1.0" />
<line x1="190.70" y1="418.25" x2="190.70" y2="420.80" stroke="#2a2a2a" stroke-width="1.0" />
<rect x="44.20" y="417.00" width="8.40" height="1.25" fill="#9ea0ab"/>
<line x1="48.40" y1="415.80" x2="48.40" y2="418.25" stroke="#5c616c" stroke-width="0.9" />
<line x1="46.09" y1="415.80" x2="50.71" y2="415.80" stroke="#5c616c" stroke-width="0.9" />
<line x1="46.09" y1="418.25" x2="50.71" y2="418.25" stroke="#5c616c" stroke-width="0.9" />
<circle cx="48.50" cy="409.60" r="1.2" fill="#353b48"/>
<circle cx="46.00" cy="417.50" r="1.2" fill="#353b48"/>
<circle cx="51.00" cy="417.50" r="1.2" fill="#353b48"/>
<rect x="58.60" y="413.50" width="8.60" height="4.75" fill="#aed3ef"/>
<line x1="62.90" y1="409.60" x2="62.90" y2="418.25" stroke="#2a9fd8" stroke-width="0.9" />
<line x1="60.54" y1="409.60" x2="65.27" y2="409.60" stroke="#2a9fd8" stroke-width="0.9" />
<line x1="60.54" y1="418.25" x2="65.27" y2="418.25" stroke="#2a9fd8" stroke-width="0.9" />
<circle cx="63.00" cy="401.30" r="0.95" fill="#2ea6dd"/>
<circle cx="63.00" cy="405.20" r="0.95" fill="#2ea6dd"/>
<circle cx="63.00" cy="409.60" r="0.95" fill="#2ea6dd"/>
<circle cx="60.70" cy="413.80" r="0.95" fill="#2ea6dd"/>
<circle cx="65.30" cy="413.80" r="0.95" fill="#2ea6dd"/>
<circle cx="59.50" cy="418.00" r="0.95" fill="#2ea6dd"/>
<circle cx="62.00" cy="418.00" r="0.95" fill="#2ea6dd"/>
<circle cx="64.50" cy="418.00" r="0.95" fill="#2ea6dd"/>
<circle cx="67.00" cy="418.00" r="0.95" fill="#2ea6dd"/>
<rect x="77.80" y="415.80" width="8.60" height="2.45" fill="#9ea0ab"/>
<line x1="82.10" y1="409.60" x2="82.10" y2="418.25" stroke="#5c616c" stroke-width="0.9" />
<line x1="79.73" y1="409.60" x2="84.47" y2="409.60" stroke="#5c616c" stroke-width="0.9" />
<line x1="79.73" y1="418.25" x2="84.47" y2="418.25" stroke="#5c616c" stroke-width="0.9" />
<circle cx="82.20" cy="401.30" r="0.95" fill="#353b48"/>
<circle cx="79.50" cy="409.60" r="0.95" fill="#353b48"/>
<circle cx="84.80" cy="409.60" r="0.95" fill="#353b48"/>
<circle cx="80.00" cy="413.80" r="0.95" fill="#353b48"/>
<circle cx="84.50" cy="413.80" r="0.95" fill="#353b48"/>
<circle cx="79.00" cy="418.00" r="0.95" fill="#353b48"/>
<circle cx="82.00" cy="418.00" r="0.95" fill="#353b48"/>
<circle cx="85.00" cy="418.00" r="0.95" fill="#353b48"/>
<rect x="92.30" y="413.50" width="8.60" height="4.75" fill="#aed3ef"/>
<line x1="96.60" y1="409.60" x2="96.60" y2="418.25" stroke="#2a9fd8" stroke-width="0.9" />
<line x1="94.23" y1="409.60" x2="98.97" y2="409.60" stroke="#2a9fd8" stroke-width="0.9" />
<line x1="94.23" y1="418.25" x2="98.97" y2="418.25" stroke="#2a9fd8" stroke-width="0.9" />
<circle cx="94.50" cy="409.60" r="0.95" fill="#2ea6dd"/>
<circle cx="98.50" cy="409.60" r="0.95" fill="#2ea6dd"/>
<circle cx="94.50" cy="413.80" r="0.95" fill="#2ea6dd"/>
<circle cx="98.50" cy="413.80" r="0.95" fill="#2ea6dd"/>
<circle cx="93.50" cy="418.00" r="0.95" fill="#2ea6dd"/>
<circle cx="96.50" cy="418.00" r="0.95" fill="#2ea6dd"/>
<circle cx="99.50" cy="418.00" r="0.95" fill="#2ea6dd"/>
<rect x="111.50" y="416.50" width="8.30" height="1.75" fill="#9ea0ab"/>
<line x1="115.65" y1="413.80" x2="115.65" y2="418.25" stroke="#5c616c" stroke-width="0.9" />
<line x1="113.37" y1="413.80" x2="117.93" y2="413.80" stroke="#5c616c" stroke-width="0.9" />
<line x1="113.37" y1="418.25" x2="117.93" y2="418.25" stroke="#5c616c" stroke-width="0.9" />
<circle cx="113.50" cy="413.80" r="0.95" fill="#353b48"/>
<circle cx="116.50" cy="413.80" r="0.95" fill="#353b48"/>
<circle cx="118.50" cy="413.80" r="0.95" fill="#353b48"/>
<circle cx="114.00" cy="418.00" r="0.95" fill="#353b48"/>
<circle cx="117.00" cy="418.00" r="0.95" fill="#353b48"/>
<rect x="125.90" y="413.50" width="8.60" height="4.75" fill="#aed3ef"/>
<line x1="130.20" y1="409.60" x2="130.20" y2="418.25" stroke="#2a9fd8" stroke-width="0.9" />
<line x1="127.83" y1="409.60" x2="132.56" y2="409.60" stroke="#2a9fd8" stroke-width="0.9" />
<line x1="127.83" y1="418.25" x2="132.56" y2="418.25" stroke="#2a9fd8" stroke-width="0.9" />
<circle cx="130.20" cy="401.30" r="0.95" fill="#2ea6dd"/>
<circle cx="130.20" cy="405.20" r="0.95" fill="#2ea6dd"/>
<circle cx="130.20" cy="409.60" r="0.95" fill="#2ea6dd"/>
<circle cx="128.00" cy="413.80" r="0.95" fill="#2ea6dd"/>
<circle cx="132.50" cy="413.80" r="0.95" fill="#2ea6dd"/>
<circle cx="127.00" cy="418.00" r="0.95" fill="#2ea6dd"/>
<circle cx="130.00" cy="418.00" r="0.95" fill="#2ea6dd"/>
<circle cx="133.00" cy="418.00" r="0.95" fill="#2ea6dd"/>
<rect x="145.00" y="392.50" width="8.75" height="25.75" fill="#9ea0ab"/>
<line x1="149.38" y1="373.00" x2="149.38" y2="418.25" stroke="#5c616c" stroke-width="0.9" />
<line x1="146.97" y1="373.00" x2="151.78" y2="373.00" stroke="#5c616c" stroke-width="0.9" />
<line x1="146.97" y1="418.25" x2="151.78" y2="418.25" stroke="#5c616c" stroke-width="0.9" />
<circle cx="150.00" cy="350.00" r="0.95" fill="#353b48"/>
<circle cx="150.00" cy="355.00" r="0.95" fill="#353b48"/>
<circle cx="148.00" cy="367.50" r="0.95" fill="#353b48"/>
<circle cx="152.00" cy="367.50" r="0.95" fill="#353b48"/>
<circle cx="150.00" cy="388.00" r="0.95" fill="#353b48"/>
<circle cx="147.00" cy="392.50" r="0.95" fill="#353b48"/>
<circle cx="153.00" cy="392.50" r="0.95" fill="#353b48"/>
<circle cx="150.00" cy="397.00" r="0.95" fill="#353b48"/>
<circle cx="146.00" cy="401.30" r="0.95" fill="#353b48"/>
<circle cx="150.00" cy="401.30" r="0.95" fill="#353b48"/>
<circle cx="154.00" cy="401.30" r="0.95" fill="#353b48"/>
<circle cx="150.00" cy="405.20" r="0.95" fill="#353b48"/>
<circle cx="147.50" cy="409.60" r="0.95" fill="#353b48"/>
<circle cx="152.50" cy="409.60" r="0.95" fill="#353b48"/>
<circle cx="150.00" cy="413.80" r="0.95" fill="#353b48"/>
<rect x="159.25" y="389.50" width="8.75" height="28.75" fill="#aed3ef"/>
<line x1="163.62" y1="364.50" x2="163.62" y2="418.25" stroke="#2a9fd8" stroke-width="0.9" />
<line x1="161.22" y1="364.50" x2="166.03" y2="364.50" stroke="#2a9fd8" stroke-width="0.9" />
<line x1="161.22" y1="418.25" x2="166.03" y2="418.25" stroke="#2a9fd8" stroke-width="0.9" />
<circle cx="162.50" cy="338.00" r="0.95" fill="#2ea6dd"/>
<circle cx="166.25" cy="338.00" r="0.95" fill="#2ea6dd"/>
<circle cx="163.60" cy="355.00" r="0.95" fill="#2ea6dd"/>
<circle cx="163.60" cy="368.00" r="0.95" fill="#2ea6dd"/>
<circle cx="163.60" cy="372.50" r="0.95" fill="#2ea6dd"/>
<circle cx="163.60" cy="380.00" r="0.95" fill="#2ea6dd"/>
<circle cx="163.60" cy="384.50" r="0.95" fill="#2ea6dd"/>
<circle cx="161.00" cy="388.50" r="0.95" fill="#2ea6dd"/>
<circle cx="166.00" cy="388.50" r="0.95" fill="#2ea6dd"/>
<circle cx="160.00" cy="401.30" r="0.95" fill="#2ea6dd"/>
<circle cx="163.60" cy="401.30" r="0.95" fill="#2ea6dd"/>
<circle cx="167.20" cy="401.30" r="0.95" fill="#2ea6dd"/>
<circle cx="163.60" cy="405.00" r="0.95" fill="#2ea6dd"/>
<circle cx="163.60" cy="409.60" r="0.95" fill="#2ea6dd"/>
<circle cx="163.60" cy="414.00" r="0.95" fill="#2ea6dd"/>
<rect x="179.50" y="416.50" width="8.00" height="1.75" fill="#9ea0ab"/>
<line x1="183.50" y1="413.80" x2="183.50" y2="418.25" stroke="#5c616c" stroke-width="0.9" />
<line x1="181.30" y1="413.80" x2="185.70" y2="413.80" stroke="#5c616c" stroke-width="0.9" />
<line x1="181.30" y1="418.25" x2="185.70" y2="418.25" stroke="#5c616c" stroke-width="0.9" />
<circle cx="183.50" cy="409.60" r="0.95" fill="#353b48"/>
<circle cx="181.00" cy="413.80" r="0.95" fill="#353b48"/>
<circle cx="186.00" cy="413.80" r="0.95" fill="#353b48"/>
<circle cx="181.00" cy="418.00" r="0.95" fill="#353b48"/>
<circle cx="184.00" cy="418.00" r="0.95" fill="#353b48"/>
<circle cx="187.00" cy="418.00" r="0.95" fill="#353b48"/>
<rect x="193.75" y="414.00" width="8.75" height="4.25" fill="#aed3ef"/>
<line x1="198.12" y1="409.60" x2="198.12" y2="418.25" stroke="#2a9fd8" stroke-width="0.9" />
<line x1="195.72" y1="409.60" x2="200.53" y2="409.60" stroke="#2a9fd8" stroke-width="0.9" />
<line x1="195.72" y1="418.25" x2="200.53" y2="418.25" stroke="#2a9fd8" stroke-width="0.9" />
<circle cx="198.10" cy="405.20" r="0.95" fill="#2ea6dd"/>
<circle cx="198.10" cy="409.60" r="0.95" fill="#2ea6dd"/>
<circle cx="196.00" cy="413.80" r="0.95" fill="#2ea6dd"/>
<circle cx="200.20" cy="413.80" r="0.95" fill="#2ea6dd"/>
<circle cx="195.00" cy="418.00" r="0.95" fill="#2ea6dd"/>
<circle cx="198.00" cy="418.00" r="0.95" fill="#2ea6dd"/>
<circle cx="201.00" cy="418.00" r="0.95" fill="#2ea6dd"/>
<line x1="49.50" y1="333.50" x2="65.50" y2="333.50" stroke="#444" stroke-width="1.1" />
<text x="57.50" y="330.40" font-size="7.4" text-anchor="middle" font-weight="normal" font-style="normal" fill="#111" >ns</text>
<line x1="82.50" y1="333.50" x2="98.75" y2="333.50" stroke="#444" stroke-width="1.1" />
<text x="90.62" y="330.40" font-size="7.4" text-anchor="middle" font-weight="normal" font-style="normal" fill="#111" >ns</text>
<line x1="118.00" y1="333.50" x2="133.75" y2="333.50" stroke="#444" stroke-width="1.1" />
<text x="125.88" y="330.40" font-size="7.4" text-anchor="middle" font-weight="normal" font-style="normal" fill="#111" >ns</text>
<line x1="150.75" y1="333.50" x2="166.75" y2="333.50" stroke="#444" stroke-width="1.1" />
<text x="158.75" y="330.40" font-size="7.4" text-anchor="middle" font-weight="normal" font-style="normal" fill="#111" >ns</text>
<line x1="185.75" y1="333.50" x2="201.75" y2="333.50" stroke="#444" stroke-width="1.1" />
<text x="193.75" y="330.40" font-size="7.4" text-anchor="middle" font-weight="normal" font-style="normal" fill="#111" >ns</text>
<text transform="translate(60.30,425.20) rotate(-45)" font-size="7.9" text-anchor="end" fill="#111">CFU-E</text>
<text transform="translate(94.00,425.20) rotate(-45)" font-size="7.9" text-anchor="end" fill="#111">CFU-G</text>
<text transform="translate(127.70,425.20) rotate(-45)" font-size="7.9" text-anchor="end" fill="#111">CFU-M</text>
<text transform="translate(161.40,425.20) rotate(-45)" font-size="7.9" text-anchor="end" fill="#111">CFU-GM</text>
<text transform="translate(195.10,425.20) rotate(-45)" font-size="7.9" text-anchor="end" fill="#111">CFU-GEMM</text>
<g transform="translate(19.40,374.40) rotate(-90)"><text x="0" y="0" font-size="8.6" text-anchor="middle" textLength="38.00" lengthAdjust="spacingAndGlyphs" fill="#111" stroke="#111" stroke-width="0.22"># of colonies</text></g>
<text x="418.80" y="315.20" font-size="11.4" text-anchor="start" font-weight="bold" font-style="normal" fill="#111" >I</text>
<text x="470.70" y="314.70" font-size="8.9" text-anchor="middle" font-weight="normal" font-style="normal" fill="#111" >Total bone</text>
<text x="470.70" y="326.20" font-size="8.9" text-anchor="middle" font-weight="normal" font-style="normal" fill="#111" >marrow</text>
<line x1="441.50" y1="330.60" x2="441.50" y2="418.60" stroke="#2a2a2a" stroke-width="1.2" />
<line x1="438.70" y1="333.40" x2="441.50" y2="333.40" stroke="#2a2a2a" stroke-width="1.0" />
<text x="435.20" y="336.10" font-size="7.8" text-anchor="end" font-weight="normal" font-style="normal" fill="#111" >4</text>
<line x1="438.70" y1="354.60" x2="441.50" y2="354.60" stroke="#2a2a2a" stroke-width="1.0" />
<text x="435.20" y="357.30" font-size="7.8" text-anchor="end" font-weight="normal" font-style="normal" fill="#111" >3</text>
<line x1="438.70" y1="375.80" x2="441.50" y2="375.80" stroke="#2a2a2a" stroke-width="1.0" />
<text x="435.20" y="378.50" font-size="7.8" text-anchor="end" font-weight="normal" font-style="normal" fill="#111" >2</text>
<line x1="438.70" y1="397.00" x2="441.50" y2="397.00" stroke="#2a2a2a" stroke-width="1.0" />
<text x="435.20" y="399.70" font-size="7.8" text-anchor="end" font-weight="normal" font-style="normal" fill="#111" >1</text>
<line x1="438.70" y1="418.10" x2="441.50" y2="418.10" stroke="#2a2a2a" stroke-width="1.0" />
<text x="435.20" y="420.80" font-size="7.8" text-anchor="end" font-weight="normal" font-style="normal" fill="#111" >0</text>
<line x1="441.30" y1="418.50" x2="498.80" y2="418.50" stroke="#2a2a2a" stroke-width="1.2" />
<rect x="451.00" y="386.20" width="14.60" height="31.90" fill="#9ea0ab"/>
<line x1="458.20" y1="372.20" x2="458.20" y2="398.60" stroke="#5c616c" stroke-width="0.9" />
<line x1="454.19" y1="372.20" x2="462.21" y2="372.20" stroke="#5c616c" stroke-width="0.9" />
<line x1="454.19" y1="398.60" x2="462.21" y2="398.60" stroke="#5c616c" stroke-width="0.9" />
<circle cx="458.20" cy="350.90" r="1.2" fill="#353b48"/>
<circle cx="458.20" cy="371.50" r="1.2" fill="#353b48"/>
<circle cx="458.20" cy="379.00" r="1.2" fill="#353b48"/>
<circle cx="460.10" cy="386.40" r="1.2" fill="#353b48"/>
<circle cx="451.20" cy="389.70" r="1.2" fill="#353b48"/>
<circle cx="455.70" cy="389.00" r="1.2" fill="#353b48"/>
<circle cx="460.90" cy="389.40" r="1.2" fill="#353b48"/>
<circle cx="465.40" cy="389.40" r="1.2" fill="#353b48"/>
<circle cx="455.70" cy="393.40" r="1.2" fill="#353b48"/>
<circle cx="460.90" cy="395.40" r="1.2" fill="#353b48"/>
<circle cx="455.70" cy="398.40" r="1.2" fill="#353b48"/>
<rect x="475.10" y="382.30" width="14.60" height="35.80" fill="#aed3ef"/>
<line x1="482.50" y1="368.50" x2="482.50" y2="394.50" stroke="#2a9fd8" stroke-width="0.9" />
<line x1="478.49" y1="368.50" x2="486.51" y2="368.50" stroke="#2a9fd8" stroke-width="0.9" />
<line x1="478.49" y1="394.50" x2="486.51" y2="394.50" stroke="#2a9fd8" stroke-width="0.9" />
<circle cx="482.50" cy="360.60" r="1.2" fill="#2ea6dd"/>
<circle cx="482.50" cy="363.60" r="1.2" fill="#2ea6dd"/>
<circle cx="478.00" cy="383.00" r="1.2" fill="#2ea6dd"/>
<circle cx="482.50" cy="383.00" r="1.2" fill="#2ea6dd"/>
<circle cx="482.50" cy="386.70" r="1.2" fill="#2ea6dd"/>
<circle cx="482.50" cy="391.20" r="1.2" fill="#2ea6dd"/>
<circle cx="487.00" cy="390.40" r="1.2" fill="#2ea6dd"/>
<circle cx="478.50" cy="394.50" r="1.2" fill="#2ea6dd"/>
<circle cx="482.50" cy="402.70" r="1.2" fill="#2ea6dd"/>
<line x1="462.80" y1="338.50" x2="477.90" y2="338.50" stroke="#444" stroke-width="1.1" />
<text x="470.35" y="335.40" font-size="7.4" text-anchor="middle" font-weight="normal" font-style="normal" fill="#111" >ns</text>
<g transform="translate(425.90,374.00) rotate(-90)"><text x="0" y="0" font-size="8.6" text-anchor="middle" textLength="55.20" lengthAdjust="spacingAndGlyphs" fill="#111" stroke="#111" stroke-width="0.1">Cell number (× 10<tspan font-size="4.5" dy="-3">7</tspan><tspan dy="3">)</tspan></text></g>
<text x="223.80" y="316.00" font-size="11.4" text-anchor="start" font-weight="bold" font-style="normal" fill="#111" >H</text>
<text x="297.60" y="314.80" font-size="9" text-anchor="middle" font-weight="normal" font-style="normal" fill="#111" >E17.5 fetal liver</text>
<text x="297.40" y="325.30" font-size="9" text-anchor="middle" font-weight="normal" font-style="normal" fill="#111" >150 sorted HSC transplants</text>
<line x1="236.40" y1="331.70" x2="358.30" y2="331.70" stroke="#333" stroke-width="1.0" />
<text x="247.20" y="342.40" font-size="7.9" text-anchor="middle" font-weight="normal" font-style="normal" fill="#111" >CD45.2</text>
<circle cx="239.62" cy="347.31" r="1.2" fill="#3aa9e0"/>
<circle cx="243.69" cy="346.54" r="1.2" fill="#3aa9e0"/>
<circle cx="237.31" cy="349.85" r="1.2" fill="#3aa9e0"/>
<circle cx="242.31" cy="349.62" r="1.2" fill="#3aa9e0"/>
<circle cx="240.00" cy="351.54" r="1.2" fill="#3aa9e0"/>
<circle cx="236.92" cy="353.69" r="1.2" fill="#3aa9e0"/>
<circle cx="241.15" cy="355.38" r="1.2" fill="#3aa9e0"/>
<circle cx="237.69" cy="356.54" r="1.2" fill="#3aa9e0"/>
<circle cx="240.77" cy="358.46" r="1.2" fill="#3aa9e0"/>
<circle cx="256.54" cy="347.31" r="1.2" fill="#2b3550"/>
<circle cx="258.46" cy="349.62" r="1.2" fill="#2b3550"/>
<circle cx="254.62" cy="350.77" r="1.2" fill="#2b3550"/>
<circle cx="252.31" cy="353.46" r="1.2" fill="#2b3550"/>
<circle cx="256.15" cy="354.23" r="1.2" fill="#2b3550"/>
<circle cx="259.23" cy="353.08" r="1.2" fill="#2b3550"/>
<circle cx="253.08" cy="356.54" r="1.2" fill="#2b3550"/>
<circle cx="258.85" cy="356.15" r="1.2" fill="#2b3550"/>
<circle cx="256.54" cy="358.08" r="1.2" fill="#2b3550"/>
<circle cx="253.85" cy="358.85" r="1.2" fill="#2b3550"/>
<text x="247.40" y="355.60" font-size="7.2" text-anchor="middle" font-weight="normal" font-style="normal" fill="#4a3535" >or</text>
<text x="247.60" y="369.20" font-size="7.9" text-anchor="middle" font-weight="normal" font-style="normal" fill="#111" >150 HSCs</text>
<text x="246.80" y="378.80" font-size="9" text-anchor="middle" font-weight="normal" font-style="normal" fill="#111" >+</text>
<text x="246.80" y="386.90" font-size="7.9" text-anchor="middle" font-weight="normal" font-style="normal" fill="#111" >CD45.1</text>
<circle cx="242.00" cy="390.00" r="1.3" fill="#c01030"/>
<circle cx="244.77" cy="391.54" r="1.3" fill="#c01030"/>
<circle cx="248.77" cy="390.43" r="1.3" fill="#c01030"/>
<circle cx="252.46" cy="391.23" r="1.3" fill="#c01030"/>
<circle cx="257.08" cy="390.92" r="1.3" fill="#c01030"/>
<circle cx="260.15" cy="392.77" r="1.3" fill="#c01030"/>
<circle cx="238.92" cy="392.15" r="1.3" fill="#c01030"/>
<circle cx="242.62" cy="393.88" r="1.3" fill="#c01030"/>
<circle cx="247.54" cy="393.26" r="1.3" fill="#c01030"/>
<circle cx="250.92" cy="394.62" r="1.3" fill="#c01030"/>
<circle cx="254.31" cy="393.69" r="1.3" fill="#c01030"/>
<circle cx="258.31" cy="395.23" r="1.3" fill="#c01030"/>
<circle cx="238.92" cy="395.85" r="1.3" fill="#c01030"/>
<circle cx="245.38" cy="395.54" r="1.3" fill="#c01030"/>
<circle cx="249.08" cy="397.08" r="1.3" fill="#c01030"/>
<circle cx="251.85" cy="398.00" r="1.3" fill="#c01030"/>
<circle cx="255.23" cy="396.77" r="1.3" fill="#c01030"/>
<circle cx="258.00" cy="398.92" r="1.3" fill="#c01030"/>
<circle cx="242.00" cy="397.69" r="1.3" fill="#c01030"/>
<circle cx="239.85" cy="399.85" r="1.3" fill="#c01030"/>
<circle cx="243.23" cy="400.77" r="1.3" fill="#c01030"/>
<circle cx="246.31" cy="399.23" r="1.3" fill="#c01030"/>
<circle cx="248.77" cy="400.46" r="1.3" fill="#c01030"/>
<circle cx="252.46" cy="402.00" r="1.3" fill="#c01030"/>
<circle cx="255.23" cy="400.15" r="1.3" fill="#c01030"/>
<circle cx="258.62" cy="402.00" r="1.3" fill="#c01030"/>
<circle cx="242.00" cy="404.15" r="1.3" fill="#c01030"/>
<circle cx="245.69" cy="402.92" r="1.3" fill="#c01030"/>
<circle cx="250.00" cy="403.23" r="1.3" fill="#c01030"/>
<circle cx="255.54" cy="403.85" r="1.3" fill="#c01030"/>
<circle cx="244.15" cy="406.92" r="1.3" fill="#c01030"/>
<circle cx="247.54" cy="405.38" r="1.3" fill="#c01030"/>
<circle cx="251.85" cy="406.00" r="1.3" fill="#c01030"/>
<text x="247.20" y="418.00" font-size="7.8" text-anchor="middle" font-weight="normal" font-style="normal" fill="#111" >300,000 bone</text>
<text x="246.00" y="426.70" font-size="7.8" text-anchor="middle" font-weight="normal" font-style="normal" fill="#111" >marrow cells</text>
<line x1="280.00" y1="356.90" x2="291.73" y2="363.90" stroke="#1a1a1a" stroke-width="1.25" />
<polygon points="295.60,366.20 290.13,365.62 292.48,361.66" fill="#1a1a1a"/>
<line x1="280.00" y1="389.70" x2="291.76" y2="382.54" stroke="#1a1a1a" stroke-width="1.25" />
<polygon points="295.60,380.20 292.53,384.77 290.13,380.84" fill="#1a1a1a"/>
<text x="318.50" y="354.30" font-size="7.4" text-anchor="middle" font-weight="normal" font-style="normal" fill="#111" >Lethal IR</text>
<circle cx="313.8" cy="364" r="2.75" fill="#fff" stroke="#2a2a2a" stroke-width="0.9"/>
<circle cx="322.9" cy="363.8" r="2.75" fill="#fff" stroke="#2a2a2a" stroke-width="0.9"/>
<path d="M318.3,362.8 C322.6,362.8 326.6,369.6 326.6,377 C326.6,382.8 323,386.6 318.3,386.6 C313.6,386.6 310.1,382.8 310.1,377 C310.1,369.6 314,362.8 318.3,362.8 Z" fill="#fff" stroke="#2a2a2a" stroke-width="1"/>
<path d="M319.8,367.2 L315.2,373.2 L318,373.4 L315.1,381.6 L321.6,371.8 L318.9,371.6 L320.6,367.4 Z" fill="#e9a22a" stroke="#7a5a20" stroke-width="0.35"/>
<path d="M318.5,386.6 C317.2,389 317.6,390.5 319,392 C320.4,393.6 319.6,395.8 317.3,398" fill="none" stroke="#2a2a2a" stroke-width="0.9"/>
<line x1="333.60" y1="374.20" x2="356.00" y2="374.20" stroke="#1a1a1a" stroke-width="1.0" />
<polygon points="360.50,374.20 355.50,376.40 355.50,372.00" fill="#1a1a1a"/>
<text x="347.40" y="368.90" font-size="7.8" text-anchor="middle" font-weight="normal" font-style="normal" fill="#111" >8 wks</text>
<text x="364.20" y="376.60" font-size="7.6" text-anchor="start" font-weight="normal" font-style="normal" fill="#111" >Harvest BM</text>
<text x="318.50" y="408.50" font-size="7.4" text-anchor="middle" font-weight="normal" font-style="normal" fill="#111" >Recipient mice</text>
<text x="318.30" y="417.50" font-size="7.4" text-anchor="middle" font-weight="normal" font-style="normal" fill="#111" >CD45.1</text>
<text x="6.00" y="483.60" font-size="11.4" text-anchor="start" font-weight="bold" font-style="normal" fill="#111" >J</text>
<text x="66.30" y="481.80" font-size="8.9" text-anchor="middle" font-weight="normal" font-style="normal" fill="#111" >BM</text>
<text x="66.20" y="493.30" font-size="8.9" text-anchor="middle" font-weight="normal" font-style="normal" fill="#111" >engraftment</text>
<line x1="38.50" y1="498.20" x2="38.50" y2="581.90" stroke="#2a2a2a" stroke-width="1.2" />
<line x1="35.70" y1="501.00" x2="38.50" y2="501.00" stroke="#2a2a2a" stroke-width="1.0" />
<text x="32.20" y="503.70" font-size="7.8" text-anchor="end" font-weight="normal" font-style="normal" fill="#111" >100</text>
<line x1="35.70" y1="517.10" x2="38.50" y2="517.10" stroke="#2a2a2a" stroke-width="1.0" />
<text x="32.20" y="519.80" font-size="7.8" text-anchor="end" font-weight="normal" font-style="normal" fill="#111" >80</text>
<line x1="35.70" y1="533.20" x2="38.50" y2="533.20" stroke="#2a2a2a" stroke-width="1.0" />
<text x="32.20" y="535.90" font-size="7.8" text-anchor="end" font-weight="normal" font-style="normal" fill="#111" >60</text>
<line x1="35.70" y1="549.20" x2="38.50" y2="549.20" stroke="#2a2a2a" stroke-width="1.0" />
<text x="32.20" y="551.90" font-size="7.8" text-anchor="end" font-weight="normal" font-style="normal" fill="#111" >40</text>
<line x1="35.70" y1="565.30" x2="38.50" y2="565.30" stroke="#2a2a2a" stroke-width="1.0" />
<text x="32.20" y="568.00" font-size="7.8" text-anchor="end" font-weight="normal" font-style="normal" fill="#111" >20</text>
<line x1="35.70" y1="581.40" x2="38.50" y2="581.40" stroke="#2a2a2a" stroke-width="1.0" />
<text x="32.20" y="584.10" font-size="7.8" text-anchor="end" font-weight="normal" font-style="normal" fill="#111" >0</text>
<line x1="38.00" y1="581.50" x2="92.50" y2="581.50" stroke="#2a2a2a" stroke-width="1.2" />
<rect x="47.60" y="533.20" width="14.10" height="48.00" fill="#9ea0ab"/>
<line x1="54.65" y1="518.30" x2="54.65" y2="545.40" stroke="#5c616c" stroke-width="0.9" />
<line x1="50.77" y1="518.30" x2="58.53" y2="518.30" stroke="#5c616c" stroke-width="0.9" />
<line x1="50.77" y1="545.40" x2="58.53" y2="545.40" stroke="#5c616c" stroke-width="0.9" />
<circle cx="54.70" cy="516.30" r="1.2" fill="#353b48"/>
<circle cx="48.40" cy="523.00" r="1.2" fill="#353b48"/>
<circle cx="52.30" cy="523.30" r="1.2" fill="#353b48"/>
<circle cx="57.00" cy="522.00" r="1.2" fill="#353b48"/>
<circle cx="52.30" cy="533.60" r="1.2" fill="#353b48"/>
<circle cx="57.00" cy="533.60" r="1.2" fill="#353b48"/>
<circle cx="48.40" cy="536.30" r="1.2" fill="#353b48"/>
<circle cx="52.30" cy="536.50" r="1.2" fill="#353b48"/>
<circle cx="57.00" cy="536.30" r="1.2" fill="#353b48"/>
<circle cx="60.50" cy="537.00" r="1.2" fill="#353b48"/>
<circle cx="54.70" cy="540.00" r="1.2" fill="#353b48"/>
<circle cx="54.70" cy="545.40" r="1.2" fill="#353b48"/>
<circle cx="54.70" cy="567.80" r="1.2" fill="#353b48"/>
<rect x="70.70" y="569.30" width="14.10" height="11.90" fill="#aed3ef"/>
<line x1="77.75" y1="557.50" x2="77.75" y2="581.00" stroke="#2a9fd8" stroke-width="0.9" />
<line x1="73.87" y1="557.50" x2="81.63" y2="557.50" stroke="#2a9fd8" stroke-width="0.9" />
<line x1="73.87" y1="581.00" x2="81.63" y2="581.00" stroke="#2a9fd8" stroke-width="0.9" />
<circle cx="77.50" cy="543.00" r="1.2" fill="#2ea6dd"/>
<circle cx="77.50" cy="563.80" r="1.2" fill="#2ea6dd"/>
<circle cx="70.90" cy="566.70" r="1.2" fill="#2ea6dd"/>
<circle cx="75.20" cy="567.10" r="1.2" fill="#2ea6dd"/>
<circle cx="80.70" cy="566.70" r="1.2" fill="#2ea6dd"/>
<circle cx="84.60" cy="566.70" r="1.2" fill="#2ea6dd"/>
<circle cx="77.50" cy="573.00" r="1.2" fill="#2ea6dd"/>
<circle cx="74.00" cy="580.00" r="1.2" fill="#2ea6dd"/>
<circle cx="77.50" cy="580.50" r="1.2" fill="#2ea6dd"/>
<circle cx="81.00" cy="580.00" r="1.2" fill="#2ea6dd"/>
<line x1="59.10" y1="505.50" x2="74.60" y2="505.50" stroke="#444" stroke-width="1.1" />
<text x="66.85" y="506.00" font-size="9.2" text-anchor="middle" font-weight="normal" font-style="normal" fill="#111" letter-spacing="-0.6">****</text>
<g transform="translate(14.90,540.50) rotate(-90)"><text x="0" y="0" font-size="8.6" text-anchor="middle" textLength="32.80" lengthAdjust="spacingAndGlyphs" fill="#111" stroke="#111" stroke-width="0.22">% CD45.2+</text></g>
<text x="108.30" y="483.75" font-size="11.4" text-anchor="start" font-weight="bold" font-style="normal" fill="#111" >K</text>
<text x="221.60" y="493.00" font-size="8.9" text-anchor="middle" font-weight="normal" font-style="normal" fill="#111" >HSPC donor engraftment</text>
<line x1="140.50" y1="498.50" x2="140.50" y2="582.10" stroke="#2a2a2a" stroke-width="1.2" />
<line x1="137.70" y1="501.30" x2="140.50" y2="501.30" stroke="#2a2a2a" stroke-width="1.0" />
<text x="134.20" y="504.00" font-size="7.8" text-anchor="end" font-weight="normal" font-style="normal" fill="#111" >100</text>
<line x1="137.70" y1="517.40" x2="140.50" y2="517.40" stroke="#2a2a2a" stroke-width="1.0" />
<text x="134.20" y="520.10" font-size="7.8" text-anchor="end" font-weight="normal" font-style="normal" fill="#111" >80</text>
<line x1="137.70" y1="533.40" x2="140.50" y2="533.40" stroke="#2a2a2a" stroke-width="1.0" />
<text x="134.20" y="536.10" font-size="7.8" text-anchor="end" font-weight="normal" font-style="normal" fill="#111" >60</text>
<line x1="137.70" y1="549.50" x2="140.50" y2="549.50" stroke="#2a2a2a" stroke-width="1.0" />
<text x="134.20" y="552.20" font-size="7.8" text-anchor="end" font-weight="normal" font-style="normal" fill="#111" >40</text>
<line x1="137.70" y1="565.50" x2="140.50" y2="565.50" stroke="#2a2a2a" stroke-width="1.0" />
<text x="134.20" y="568.20" font-size="7.8" text-anchor="end" font-weight="normal" font-style="normal" fill="#111" >20</text>
<line x1="137.70" y1="581.60" x2="140.50" y2="581.60" stroke="#2a2a2a" stroke-width="1.0" />
<text x="134.20" y="584.30" font-size="7.8" text-anchor="end" font-weight="normal" font-style="normal" fill="#111" >0</text>
<line x1="139.40" y1="582.50" x2="302.50" y2="582.50" stroke="#2a2a2a" stroke-width="1.2" />
<line x1="155.30" y1="582.00" x2="155.30" y2="584.60" stroke="#2a2a2a" stroke-width="1.0" />
<line x1="188.50" y1="582.00" x2="188.50" y2="584.60" stroke="#2a2a2a" stroke-width="1.0" />
<line x1="221.70" y1="582.00" x2="221.70" y2="584.60" stroke="#2a2a2a" stroke-width="1.0" />
<line x1="254.60" y1="582.00" x2="254.60" y2="584.60" stroke="#2a2a2a" stroke-width="1.0" />
<line x1="287.60" y1="582.00" x2="287.60" y2="584.60" stroke="#2a2a2a" stroke-width="1.0" />
<rect x="145.30" y="551.00" width="7.60" height="31.00" fill="#9ea0ab"/>
<line x1="149.10" y1="535.50" x2="149.10" y2="568.30" stroke="#5c616c" stroke-width="0.9" />
<line x1="147.01" y1="535.50" x2="151.19" y2="535.50" stroke="#5c616c" stroke-width="0.9" />
<line x1="147.01" y1="568.30" x2="151.19" y2="568.30" stroke="#5c616c" stroke-width="0.9" />
<circle cx="149.20" cy="523.40" r="1.2" fill="#353b48"/>
<circle cx="149.20" cy="530.30" r="1.2" fill="#353b48"/>
<circle cx="145.80" cy="546.70" r="1.2" fill="#353b48"/>
<circle cx="145.00" cy="551.00" r="1.2" fill="#353b48"/>
<circle cx="152.50" cy="551.00" r="1.2" fill="#353b48"/>
<circle cx="149.20" cy="541.50" r="1.2" fill="#353b48"/>
<circle cx="149.20" cy="555.40" r="1.2" fill="#353b48"/>
<circle cx="149.20" cy="561.40" r="1.2" fill="#353b48"/>
<circle cx="149.20" cy="568.30" r="1.2" fill="#353b48"/>
<rect x="157.90" y="571.80" width="7.60" height="10.20" fill="#aed3ef"/>
<line x1="161.70" y1="556.70" x2="161.70" y2="581.50" stroke="#2a9fd8" stroke-width="0.9" />
<line x1="159.61" y1="556.70" x2="163.79" y2="556.70" stroke="#2a9fd8" stroke-width="0.9" />
<line x1="159.61" y1="581.50" x2="163.79" y2="581.50" stroke="#2a9fd8" stroke-width="0.9" />
<circle cx="161.50" cy="534.30" r="1.2" fill="#2ea6dd"/>
<circle cx="161.50" cy="566.60" r="1.2" fill="#2ea6dd"/>
<circle cx="159.60" cy="571.00" r="1.2" fill="#2ea6dd"/>
<circle cx="163.90" cy="571.00" r="1.2" fill="#2ea6dd"/>
<circle cx="161.50" cy="576.00" r="1.2" fill="#2ea6dd"/>
<circle cx="159.60" cy="579.60" r="1.2" fill="#2ea6dd"/>
<circle cx="163.90" cy="579.60" r="1.2" fill="#2ea6dd"/>
<rect x="178.70" y="551.00" width="7.60" height="31.00" fill="#9ea0ab"/>
<line x1="182.50" y1="532.00" x2="182.50" y2="570.00" stroke="#5c616c" stroke-width="0.9" />
<line x1="180.41" y1="532.00" x2="184.59" y2="532.00" stroke="#5c616c" stroke-width="0.9" />
<line x1="180.41" y1="570.00" x2="184.59" y2="570.00" stroke="#5c616c" stroke-width="0.9" />
<circle cx="182.10" cy="517.80" r="1.2" fill="#353b48"/>
<circle cx="182.10" cy="522.10" r="1.2" fill="#353b48"/>
<circle cx="182.10" cy="541.50" r="1.2" fill="#353b48"/>
<circle cx="182.10" cy="546.00" r="1.2" fill="#353b48"/>
<circle cx="179.50" cy="563.20" r="1.2" fill="#353b48"/>
<circle cx="184.70" cy="561.40" r="1.2" fill="#353b48"/>
<circle cx="182.10" cy="555.40" r="1.2" fill="#353b48"/>
<circle cx="182.10" cy="566.60" r="1.2" fill="#353b48"/>
<rect x="190.80" y="574.40" width="7.80" height="7.60" fill="#aed3ef"/>
<line x1="194.70" y1="564.90" x2="194.70" y2="581.50" stroke="#2a9fd8" stroke-width="0.9" />
<line x1="192.56" y1="564.90" x2="196.84" y2="564.90" stroke="#2a9fd8" stroke-width="0.9" />
<line x1="192.56" y1="581.50" x2="196.84" y2="581.50" stroke="#2a9fd8" stroke-width="0.9" />
<circle cx="194.20" cy="558.80" r="1.2" fill="#2ea6dd"/>
<circle cx="191.60" cy="564.00" r="1.2" fill="#2ea6dd"/>
<circle cx="197.70" cy="564.90" r="1.2" fill="#2ea6dd"/>
<circle cx="194.20" cy="571.00" r="1.2" fill="#2ea6dd"/>
<circle cx="191.60" cy="575.30" r="1.2" fill="#2ea6dd"/>
<circle cx="197.70" cy="575.30" r="1.2" fill="#2ea6dd"/>
<circle cx="194.20" cy="579.60" r="1.2" fill="#2ea6dd"/>
<rect x="211.70" y="553.80" width="7.70" height="28.20" fill="#9ea0ab"/>
<line x1="215.55" y1="541.00" x2="215.55" y2="566.00" stroke="#5c616c" stroke-width="0.9" />
<line x1="213.43" y1="541.00" x2="217.67" y2="541.00" stroke="#5c616c" stroke-width="0.9" />
<line x1="213.43" y1="566.00" x2="217.67" y2="566.00" stroke="#5c616c" stroke-width="0.9" />
<circle cx="215.00" cy="531.70" r="1.2" fill="#353b48"/>
<circle cx="212.30" cy="543.30" r="1.2" fill="#353b48"/>
<circle cx="218.50" cy="541.90" r="1.2" fill="#353b48"/>
<circle cx="212.30" cy="550.40" r="1.2" fill="#353b48"/>
<circle cx="218.50" cy="550.40" r="1.2" fill="#353b48"/>
<circle cx="215.00" cy="556.70" r="1.2" fill="#353b48"/>
<circle cx="212.30" cy="562.50" r="1.2" fill="#353b48"/>
<circle cx="218.50" cy="562.50" r="1.2" fill="#353b48"/>
<circle cx="215.00" cy="579.80" r="1.2" fill="#353b48"/>
<rect x="224.20" y="576.50" width="7.70" height="5.50" fill="#aed3ef"/>
<line x1="228.05" y1="571.20" x2="228.05" y2="581.50" stroke="#2a9fd8" stroke-width="0.9" />
<line x1="225.93" y1="571.20" x2="230.17" y2="571.20" stroke="#2a9fd8" stroke-width="0.9" />
<line x1="225.93" y1="581.50" x2="230.17" y2="581.50" stroke="#2a9fd8" stroke-width="0.9" />
<circle cx="228.50" cy="567.30" r="1.2" fill="#2ea6dd"/>
<circle cx="226.20" cy="568.30" r="1.2" fill="#2ea6dd"/>
<circle cx="228.00" cy="577.00" r="1.2" fill="#2ea6dd"/>
<circle cx="230.00" cy="578.00" r="1.2" fill="#2ea6dd"/>
<circle cx="227.10" cy="579.00" r="1.2" fill="#2ea6dd"/>
<rect x="245.00" y="543.80" width="7.10" height="38.20" fill="#9ea0ab"/>
<line x1="248.55" y1="526.00" x2="248.55" y2="561.00" stroke="#5c616c" stroke-width="0.9" />
<line x1="246.60" y1="526.00" x2="250.50" y2="526.00" stroke="#5c616c" stroke-width="0.9" />
<line x1="246.60" y1="561.00" x2="250.50" y2="561.00" stroke="#5c616c" stroke-width="0.9" />
<circle cx="248.30" cy="518.80" r="1.2" fill="#353b48"/>
<circle cx="248.30" cy="526.50" r="1.2" fill="#353b48"/>
<circle cx="248.30" cy="537.50" r="1.2" fill="#353b48"/>
<circle cx="248.30" cy="542.30" r="1.2" fill="#353b48"/>
<circle cx="245.40" cy="550.40" r="1.2" fill="#353b48"/>
<circle cx="250.20" cy="550.40" r="1.2" fill="#353b48"/>
<circle cx="251.20" cy="548.10" r="1.2" fill="#353b48"/>
<circle cx="248.30" cy="557.70" r="1.2" fill="#353b48"/>
<rect x="256.90" y="574.00" width="8.10" height="8.00" fill="#aed3ef"/>
<line x1="260.95" y1="563.50" x2="260.95" y2="581.50" stroke="#2a9fd8" stroke-width="0.9" />
<line x1="258.72" y1="563.50" x2="263.18" y2="563.50" stroke="#2a9fd8" stroke-width="0.9" />
<line x1="258.72" y1="581.50" x2="263.18" y2="581.50" stroke="#2a9fd8" stroke-width="0.9" />
<circle cx="260.80" cy="556.70" r="1.2" fill="#2ea6dd"/>
<circle cx="260.80" cy="564.40" r="1.2" fill="#2ea6dd"/>
<circle cx="257.90" cy="570.20" r="1.2" fill="#2ea6dd"/>
<circle cx="263.70" cy="570.20" r="1.2" fill="#2ea6dd"/>
<circle cx="257.90" cy="574.00" r="1.2" fill="#2ea6dd"/>
<circle cx="263.70" cy="574.00" r="1.2" fill="#2ea6dd"/>
<circle cx="260.80" cy="578.80" r="1.2" fill="#2ea6dd"/>
<rect x="278.00" y="536.20" width="7.60" height="45.80" fill="#9ea0ab"/>
<line x1="281.80" y1="516.30" x2="281.80" y2="556.00" stroke="#5c616c" stroke-width="0.9" />
<line x1="279.71" y1="516.30" x2="283.89" y2="516.30" stroke="#5c616c" stroke-width="0.9" />
<line x1="279.71" y1="556.00" x2="283.89" y2="556.00" stroke="#5c616c" stroke-width="0.9" />
<circle cx="281.50" cy="509.60" r="1.2" fill="#353b48"/>
<circle cx="281.50" cy="516.30" r="1.2" fill="#353b48"/>
<circle cx="281.50" cy="522.70" r="1.2" fill="#353b48"/>
<circle cx="279.00" cy="532.70" r="1.2" fill="#353b48"/>
<circle cx="284.80" cy="532.70" r="1.2" fill="#353b48"/>
<circle cx="281.50" cy="534.60" r="1.2" fill="#353b48"/>
<circle cx="281.50" cy="543.30" r="1.2" fill="#353b48"/>
<circle cx="281.50" cy="558.70" r="1.2" fill="#353b48"/>
<circle cx="281.50" cy="578.80" r="1.2" fill="#353b48"/>
<rect x="290.20" y="566.30" width="7.70" height="15.70" fill="#aed3ef"/>
<line x1="294.05" y1="549.60" x2="294.05" y2="581.50" stroke="#2a9fd8" stroke-width="0.9" />
<line x1="291.93" y1="549.60" x2="296.17" y2="549.60" stroke="#2a9fd8" stroke-width="0.9" />
<line x1="291.93" y1="581.50" x2="296.17" y2="581.50" stroke="#2a9fd8" stroke-width="0.9" />
<circle cx="293.80" cy="530.80" r="1.2" fill="#2ea6dd"/>
<circle cx="293.80" cy="555.80" r="1.2" fill="#2ea6dd"/>
<circle cx="293.80" cy="563.50" r="1.2" fill="#2ea6dd"/>
<circle cx="293.80" cy="568.30" r="1.2" fill="#2ea6dd"/>
<circle cx="293.80" cy="576.90" r="1.2" fill="#2ea6dd"/>
<line x1="151.75" y1="505.50" x2="167.50" y2="505.50" stroke="#444" stroke-width="1.1" />
<text x="159.62" y="506.00" font-size="9.2" text-anchor="middle" font-weight="normal" font-style="normal" fill="#111" letter-spacing="-0.6">**</text>
<line x1="185.00" y1="505.50" x2="200.75" y2="505.50" stroke="#444" stroke-width="1.1" />
<text x="192.88" y="506.00" font-size="9.2" text-anchor="middle" font-weight="normal" font-style="normal" fill="#111" letter-spacing="-0.6">**</text>
<line x1="215.60" y1="505.50" x2="231.00" y2="505.50" stroke="#444" stroke-width="1.1" />
<text x="223.30" y="506.00" font-size="9.2" text-anchor="middle" font-weight="normal" font-style="normal" fill="#111" letter-spacing="-0.6">****</text>
<line x1="248.30" y1="505.50" x2="263.70" y2="505.50" stroke="#444" stroke-width="1.1" />
<text x="256.00" y="506.00" font-size="9.2" text-anchor="middle" font-weight="normal" font-style="normal" fill="#111" letter-spacing="-0.6">****</text>
<line x1="281.50" y1="505.50" x2="296.90" y2="505.50" stroke="#444" stroke-width="1.1" />
<text x="289.20" y="506.00" font-size="9.2" text-anchor="middle" font-weight="normal" font-style="normal" fill="#111" letter-spacing="-0.6">****</text>
<text x="154.50" y="594.50" font-size="8.1" text-anchor="middle" font-weight="normal" font-style="normal" fill="#111" >LT-HSC</text>
<text x="188.75" y="594.50" font-size="8.1" text-anchor="middle" font-weight="normal" font-style="normal" fill="#111" >ST-HSC</text>
<text x="221.25" y="594.50" font-size="8.1" text-anchor="middle" font-weight="normal" font-style="normal" fill="#111" >MPP2</text>
<text x="254.50" y="594.50" font-size="8.1" text-anchor="middle" font-weight="normal" font-style="normal" fill="#111" >MPP3</text>
<text x="287.50" y="594.50" font-size="8.1" text-anchor="middle" font-weight="normal" font-style="normal" fill="#111" >MPP4</text>
<g transform="translate(116.10,540.50) rotate(-90)"><text x="0" y="0" font-size="8.6" text-anchor="middle" textLength="32.80" lengthAdjust="spacingAndGlyphs" fill="#111" stroke="#111" stroke-width="0.22">% CD45.2+</text></g>
<text x="316.60" y="483.75" font-size="11.4" text-anchor="start" font-weight="bold" font-style="normal" fill="#111" >L</text>
<text x="432.50" y="493.00" font-size="8.9" text-anchor="middle" font-weight="normal" font-style="normal" fill="#111" >Donor HSPC frequency</text>
<line x1="351.50" y1="498.50" x2="351.50" y2="582.20" stroke="#2a2a2a" stroke-width="1.2" />
<line x1="348.70" y1="501.30" x2="351.50" y2="501.30" stroke="#2a2a2a" stroke-width="1.0" />
<text x="345.20" y="504.00" font-size="7.8" text-anchor="end" font-weight="normal" font-style="normal" fill="#111" >0.08</text>
<line x1="348.70" y1="521.40" x2="351.50" y2="521.40" stroke="#2a2a2a" stroke-width="1.0" />
<text x="345.20" y="524.10" font-size="7.8" text-anchor="end" font-weight="normal" font-style="normal" fill="#111" >0.06</text>
<line x1="348.70" y1="541.50" x2="351.50" y2="541.50" stroke="#2a2a2a" stroke-width="1.0" />
<text x="345.20" y="544.20" font-size="7.8" text-anchor="end" font-weight="normal" font-style="normal" fill="#111" >0.04</text>
<line x1="348.70" y1="561.60" x2="351.50" y2="561.60" stroke="#2a2a2a" stroke-width="1.0" />
<text x="345.20" y="564.30" font-size="7.8" text-anchor="end" font-weight="normal" font-style="normal" fill="#111" >0.02</text>
<line x1="348.70" y1="581.70" x2="351.50" y2="581.70" stroke="#2a2a2a" stroke-width="1.0" />
<text x="345.20" y="584.40" font-size="7.8" text-anchor="end" font-weight="normal" font-style="normal" fill="#111" >0.00</text>
<line x1="350.65" y1="582.50" x2="513.25" y2="582.50" stroke="#2a2a2a" stroke-width="1.2" />
<line x1="368.20" y1="582.00" x2="368.20" y2="584.60" stroke="#2a2a2a" stroke-width="1.0" />
<line x1="400.00" y1="582.00" x2="400.00" y2="584.60" stroke="#2a2a2a" stroke-width="1.0" />
<line x1="432.00" y1="582.00" x2="432.00" y2="584.60" stroke="#2a2a2a" stroke-width="1.0" />
<line x1="463.90" y1="582.00" x2="463.90" y2="584.60" stroke="#2a2a2a" stroke-width="1.0" />
<line x1="496.20" y1="582.00" x2="496.20" y2="584.60" stroke="#2a2a2a" stroke-width="1.0" />
<rect x="356.20" y="575.40" width="9.20" height="6.60" fill="#9ea0ab"/>
<line x1="360.80" y1="569.20" x2="360.80" y2="581.00" stroke="#5c616c" stroke-width="0.9" />
<line x1="358.27" y1="569.20" x2="363.33" y2="569.20" stroke="#5c616c" stroke-width="0.9" />
<line x1="358.27" y1="581.00" x2="363.33" y2="581.00" stroke="#5c616c" stroke-width="0.9" />
<circle cx="360.80" cy="564.60" r="1.2" fill="#353b48"/>
<circle cx="359.20" cy="566.00" r="1.2" fill="#353b48"/>
<circle cx="357.50" cy="575.50" r="1.2" fill="#353b48"/>
<circle cx="361.00" cy="574.30" r="1.2" fill="#353b48"/>
<circle cx="364.30" cy="576.00" r="1.2" fill="#353b48"/>
<circle cx="359.00" cy="578.80" r="1.2" fill="#353b48"/>
<circle cx="363.00" cy="579.00" r="1.2" fill="#353b48"/>
<circle cx="360.80" cy="580.50" r="1.2" fill="#353b48"/>
<rect x="370.80" y="572.30" width="7.70" height="9.70" fill="#aed3ef"/>
<line x1="374.65" y1="557.70" x2="374.65" y2="581.50" stroke="#2a9fd8" stroke-width="0.9" />
<line x1="372.53" y1="557.70" x2="376.77" y2="557.70" stroke="#2a9fd8" stroke-width="0.9" />
<line x1="372.53" y1="581.50" x2="376.77" y2="581.50" stroke="#2a9fd8" stroke-width="0.9" />
<circle cx="374.30" cy="544.60" r="1.2" fill="#2ea6dd"/>
<circle cx="374.30" cy="548.50" r="1.2" fill="#2ea6dd"/>
<circle cx="374.30" cy="569.20" r="1.2" fill="#2ea6dd"/>
<circle cx="373.10" cy="574.60" r="1.2" fill="#2ea6dd"/>
<circle cx="375.40" cy="577.70" r="1.2" fill="#2ea6dd"/>
<circle cx="374.30" cy="581.00" r="1.2" fill="#2ea6dd"/>
<rect x="389.20" y="575.40" width="7.70" height="6.60" fill="#9ea0ab"/>
<line x1="393.05" y1="572.50" x2="393.05" y2="581.00" stroke="#5c616c" stroke-width="0.9" />
<line x1="390.93" y1="572.50" x2="395.17" y2="572.50" stroke="#5c616c" stroke-width="0.9" />
<line x1="390.93" y1="581.00" x2="395.17" y2="581.00" stroke="#5c616c" stroke-width="0.9" />
<circle cx="393.00" cy="570.80" r="1.2" fill="#353b48"/>
<circle cx="391.50" cy="573.10" r="1.2" fill="#353b48"/>
<circle cx="394.60" cy="574.60" r="1.2" fill="#353b48"/>
<circle cx="390.80" cy="576.20" r="1.2" fill="#353b48"/>
<circle cx="395.00" cy="577.70" r="1.2" fill="#353b48"/>
<circle cx="392.50" cy="579.50" r="1.2" fill="#353b48"/>
<rect x="403.00" y="575.40" width="7.80" height="6.60" fill="#aed3ef"/>
<line x1="406.90" y1="565.00" x2="406.90" y2="581.50" stroke="#2a9fd8" stroke-width="0.9" />
<line x1="404.75" y1="565.00" x2="409.04" y2="565.00" stroke="#2a9fd8" stroke-width="0.9" />
<line x1="404.75" y1="581.50" x2="409.04" y2="581.50" stroke="#2a9fd8" stroke-width="0.9" />
<circle cx="407.70" cy="563.00" r="1.2" fill="#2ea6dd"/>
<circle cx="406.90" cy="565.40" r="1.2" fill="#2ea6dd"/>
<circle cx="408.50" cy="568.50" r="1.2" fill="#2ea6dd"/>
<circle cx="406.90" cy="571.50" r="1.2" fill="#2ea6dd"/>
<circle cx="408.50" cy="574.60" r="1.2" fill="#2ea6dd"/>
<circle cx="406.90" cy="576.90" r="1.2" fill="#2ea6dd"/>
<circle cx="407.70" cy="580.00" r="1.2" fill="#2ea6dd"/>
<rect x="420.00" y="577.50" width="7.50" height="4.50" fill="#9ea0ab"/>
<line x1="423.75" y1="575.00" x2="423.75" y2="581.00" stroke="#5c616c" stroke-width="0.9" />
<line x1="421.69" y1="575.00" x2="425.81" y2="575.00" stroke="#5c616c" stroke-width="0.9" />
<line x1="421.69" y1="581.00" x2="425.81" y2="581.00" stroke="#5c616c" stroke-width="0.9" />
<circle cx="423.50" cy="574.80" r="1.2" fill="#353b48"/>
<circle cx="422.00" cy="576.50" r="1.2" fill="#353b48"/>
<circle cx="425.50" cy="577.00" r="1.2" fill="#353b48"/>
<circle cx="421.50" cy="579.00" r="1.2" fill="#353b48"/>
<circle cx="424.00" cy="579.50" r="1.2" fill="#353b48"/>
<circle cx="426.50" cy="580.00" r="1.2" fill="#353b48"/>
<rect x="433.75" y="579.50" width="8.75" height="2.50" fill="#aed3ef"/>
<line x1="438.12" y1="573.75" x2="438.12" y2="581.50" stroke="#2a9fd8" stroke-width="0.9" />
<line x1="435.72" y1="573.75" x2="440.53" y2="573.75" stroke="#2a9fd8" stroke-width="0.9" />
<line x1="435.72" y1="581.50" x2="440.53" y2="581.50" stroke="#2a9fd8" stroke-width="0.9" />
<circle cx="438.75" cy="564.50" r="1.2" fill="#2ea6dd"/>
<circle cx="436.50" cy="579.50" r="1.2" fill="#2ea6dd"/>
<circle cx="440.00" cy="580.00" r="1.2" fill="#2ea6dd"/>
<circle cx="438.00" cy="581.30" r="1.2" fill="#2ea6dd"/>
<rect x="452.50" y="567.00" width="9.25" height="15.00" fill="#9ea0ab"/>
<line x1="457.12" y1="557.50" x2="457.12" y2="576.50" stroke="#5c616c" stroke-width="0.9" />
<line x1="454.58" y1="557.50" x2="459.67" y2="557.50" stroke="#5c616c" stroke-width="0.9" />
<line x1="454.58" y1="576.50" x2="459.67" y2="576.50" stroke="#5c616c" stroke-width="0.9" />
<circle cx="456.25" cy="557.50" r="1.2" fill="#353b48"/>
<circle cx="457.60" cy="559.20" r="1.2" fill="#353b48"/>
<circle cx="455.00" cy="562.00" r="1.2" fill="#353b48"/>
<circle cx="459.00" cy="563.50" r="1.2" fill="#353b48"/>
<circle cx="456.50" cy="566.50" r="1.2" fill="#353b48"/>
<circle cx="454.00" cy="569.50" r="1.2" fill="#353b48"/>
<circle cx="459.00" cy="570.50" r="1.2" fill="#353b48"/>
<circle cx="457.00" cy="575.00" r="1.2" fill="#353b48"/>
<rect x="466.25" y="562.50" width="9.25" height="19.50" fill="#aed3ef"/>
<line x1="470.88" y1="541.25" x2="470.88" y2="581.50" stroke="#2a9fd8" stroke-width="0.9" />
<line x1="468.33" y1="541.25" x2="473.42" y2="541.25" stroke="#2a9fd8" stroke-width="0.9" />
<line x1="468.33" y1="581.50" x2="473.42" y2="581.50" stroke="#2a9fd8" stroke-width="0.9" />
<circle cx="470.50" cy="515.00" r="1.2" fill="#2ea6dd"/>
<circle cx="470.50" cy="553.00" r="1.2" fill="#2ea6dd"/>
<circle cx="466.50" cy="564.50" r="1.2" fill="#2ea6dd"/>
<circle cx="474.50" cy="564.50" r="1.2" fill="#2ea6dd"/>
<circle cx="470.50" cy="570.00" r="1.2" fill="#2ea6dd"/>
<circle cx="470.50" cy="576.00" r="1.2" fill="#2ea6dd"/>
<rect x="485.00" y="570.00" width="8.75" height="12.00" fill="#9ea0ab"/>
<line x1="489.38" y1="561.25" x2="489.38" y2="578.00" stroke="#5c616c" stroke-width="0.9" />
<line x1="486.97" y1="561.25" x2="491.78" y2="561.25" stroke="#5c616c" stroke-width="0.9" />
<line x1="486.97" y1="578.00" x2="491.78" y2="578.00" stroke="#5c616c" stroke-width="0.9" />
<circle cx="486.25" cy="561.25" r="1.2" fill="#353b48"/>
<circle cx="492.50" cy="562.50" r="1.2" fill="#353b48"/>
<circle cx="489.50" cy="563.80" r="1.2" fill="#353b48"/>
<circle cx="487.50" cy="566.80" r="1.2" fill="#353b48"/>
<circle cx="490.50" cy="568.50" r="1.2" fill="#353b48"/>
<circle cx="489.00" cy="572.50" r="1.2" fill="#353b48"/>
<circle cx="489.50" cy="577.00" r="1.2" fill="#353b48"/>
<rect x="498.25" y="573.75" width="8.75" height="8.25" fill="#aed3ef"/>
<line x1="502.62" y1="564.50" x2="502.62" y2="581.50" stroke="#2a9fd8" stroke-width="0.9" />
<line x1="500.22" y1="564.50" x2="505.03" y2="564.50" stroke="#2a9fd8" stroke-width="0.9" />
<line x1="500.22" y1="581.50" x2="505.03" y2="581.50" stroke="#2a9fd8" stroke-width="0.9" />
<circle cx="500.50" cy="566.00" r="1.2" fill="#2ea6dd"/>
<circle cx="506.00" cy="566.00" r="1.2" fill="#2ea6dd"/>
<circle cx="502.60" cy="568.50" r="1.2" fill="#2ea6dd"/>
<circle cx="502.60" cy="572.00" r="1.2" fill="#2ea6dd"/>
<circle cx="499.50" cy="575.50" r="1.2" fill="#2ea6dd"/>
<circle cx="505.50" cy="575.50" r="1.2" fill="#2ea6dd"/>
<circle cx="502.60" cy="580.00" r="1.2" fill="#2ea6dd"/>
<line x1="361.25" y1="507.50" x2="377.50" y2="507.50" stroke="#444" stroke-width="1.1" />
<text x="369.38" y="504.40" font-size="7.4" text-anchor="middle" font-weight="normal" font-style="normal" fill="#111" >ns</text>
<line x1="392.50" y1="507.50" x2="408.25" y2="507.50" stroke="#444" stroke-width="1.1" />
<text x="400.38" y="504.40" font-size="7.4" text-anchor="middle" font-weight="normal" font-style="normal" fill="#111" >ns</text>
<line x1="424.25" y1="507.50" x2="438.75" y2="507.50" stroke="#444" stroke-width="1.1" />
<text x="431.50" y="504.40" font-size="7.4" text-anchor="middle" font-weight="normal" font-style="normal" fill="#111" >ns</text>
<line x1="457.00" y1="507.50" x2="471.25" y2="507.50" stroke="#444" stroke-width="1.1" />
<text x="464.12" y="504.40" font-size="7.4" text-anchor="middle" font-weight="normal" font-style="normal" fill="#111" >ns</text>
<line x1="489.50" y1="507.50" x2="504.25" y2="507.50" stroke="#444" stroke-width="1.1" />
<text x="496.88" y="504.40" font-size="7.4" text-anchor="middle" font-weight="normal" font-style="normal" fill="#111" >ns</text>
<text x="367.50" y="594.50" font-size="8.1" text-anchor="middle" font-weight="normal" font-style="normal" fill="#111" >LT-HSC</text>
<text x="400.00" y="594.50" font-size="8.1" text-anchor="middle" font-weight="normal" font-style="normal" fill="#111" >ST-HSC</text>
<text x="432.00" y="594.50" font-size="8.1" text-anchor="middle" font-weight="normal" font-style="normal" fill="#111" >MPP2</text>
<text x="463.75" y="594.50" font-size="8.1" text-anchor="middle" font-weight="normal" font-style="normal" fill="#111" >MPP3</text>
<text x="496.25" y="594.50" font-size="8.1" text-anchor="middle" font-weight="normal" font-style="normal" fill="#111" >MPP4</text>
<g transform="translate(325.70,539.00) rotate(-90)"><text x="0" y="0" font-size="8.6" text-anchor="middle" textLength="55.20" lengthAdjust="spacingAndGlyphs" fill="#111" stroke="#111" stroke-width="0.22">% of CD45.2+ cells</text></g>
<rect x="0.5" y="0.5" width="519" height="602" fill="none" stroke="#5a5a5a" stroke-width="1"/>
</svg>
</body></html>
